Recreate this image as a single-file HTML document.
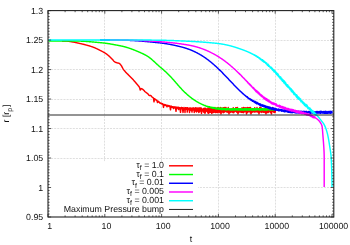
<!DOCTYPE html><html><head><meta charset="utf-8"><title>plot</title><style>html,body{margin:0;padding:0;background:#fff}svg{display:block;will-change:transform}text{text-rendering:geometricPrecision;font-family:"Liberation Sans",sans-serif;fill:#111}</style></head><body>
<svg width="350" height="245" viewBox="0 0 350 245">
<rect width="350" height="245" fill="#fff"/>
<path d="M104.5,217.0 V10.6 M161.5,217.0 V10.6 M218.5,217.0 V10.6 M275.5,217.0 V10.6 M48.0,40.5 H333.8 M48.0,69.5 H333.8 M48.0,99.5 H333.8 M48.0,128.5 H333.8 M48.0,158.5 H333.8 M48.0,187.5 H333.8" stroke="#dfdfdf" stroke-width="1" stroke-dasharray="2,1.1" fill="none"/>
<rect x="48.0" y="161.5" width="150.00" height="55.50" fill="#fff"/>
<path d="M62.00,40.90 L62.25,40.90 L62.50,40.90 L62.75,40.90 L63.00,40.91 L63.25,40.91 L63.50,40.92 L63.75,40.92 L64.00,40.93 L64.25,40.94 L64.50,40.94 L64.75,40.95 L65.00,40.96 L65.25,40.97 L65.50,40.98 L65.75,40.99 L66.00,41.00 L66.25,41.01 L66.50,41.03 L66.75,41.05 L67.00,41.07 L67.25,41.10 L67.50,41.13 L67.75,41.16 L68.00,41.20 L68.25,41.23 L68.50,41.27 L68.75,41.31 L69.00,41.35 L69.25,41.39 L69.50,41.42 L69.75,41.46 L70.00,41.50 L70.25,41.54 L70.50,41.58 L70.75,41.62 L71.00,41.66 L71.25,41.70 L71.50,41.74 L71.75,41.78 L72.00,41.83 L72.25,41.87 L72.50,41.92 L72.75,41.96 L73.00,42.01 L73.25,42.06 L73.50,42.11 L73.75,42.15 L74.00,42.20 L74.25,42.25 L74.50,42.30 L74.75,42.35 L75.00,42.40 L75.25,42.45 L75.50,42.50 L75.75,42.55 L76.00,42.60 L76.25,42.66 L76.50,42.71 L76.75,42.76 L77.00,42.82 L77.25,42.87 L77.50,42.93 L77.75,42.99 L78.00,43.04 L78.25,43.10 L78.50,43.16 L78.75,43.21 L79.00,43.27 L79.25,43.33 L79.50,43.39 L79.75,43.44 L80.00,43.50 L80.25,43.56 L80.50,43.61 L80.75,43.67 L81.00,43.73 L81.25,43.79 L81.50,43.85 L81.75,43.90 L82.00,43.96 L82.25,44.02 L82.50,44.08 L82.75,44.14 L83.00,44.20 L83.25,44.26 L83.50,44.32 L83.75,44.38 L84.00,44.45 L84.25,44.51 L84.50,44.57 L84.75,44.64 L85.00,44.70 L85.25,44.76 L85.50,44.83 L85.75,44.89 L86.00,44.96 L86.25,45.03 L86.50,45.09 L86.75,45.16 L87.00,45.23 L87.25,45.30 L87.50,45.36 L87.75,45.43 L88.00,45.50 L88.25,45.58 L88.50,45.65 L88.75,45.72 L89.00,45.79 L89.25,45.87 L89.50,45.94 L89.75,46.02 L90.00,46.10 L90.25,46.18 L90.50,46.26 L90.75,46.34 L91.00,46.42 L91.25,46.51 L91.50,46.59 L91.75,46.68 L92.00,46.76 L92.25,46.85 L92.50,46.94 L92.75,47.03 L93.00,47.12 L93.25,47.21 L93.50,47.31 L93.75,47.40 L94.00,47.50 L94.25,47.60 L94.50,47.70 L94.75,47.80 L95.00,47.90 L95.25,48.00 L95.50,48.11 L95.75,48.22 L96.00,48.33 L96.25,48.45 L96.50,48.56 L96.75,48.68 L97.00,48.80 L97.25,48.92 L97.50,49.04 L97.75,49.16 L98.00,49.29 L98.25,49.41 L98.50,49.54 L98.75,49.66 L99.00,49.79 L99.25,49.92 L99.50,50.05 L99.75,50.17 L100.00,50.30 L100.25,50.43 L100.50,50.55 L100.75,50.68 L101.00,50.81 L101.25,50.93 L101.50,51.06 L101.75,51.19 L102.00,51.31 L102.25,51.44 L102.50,51.57 L102.75,51.71 L103.00,51.84 L103.25,51.98 L103.50,52.11 L103.75,52.25 L104.00,52.40 L104.25,52.54 L104.50,52.69 L104.75,52.84 L105.00,53.00 L105.25,53.16 L105.50,53.32 L105.75,53.49 L106.00,53.67 L106.25,53.85 L106.50,54.03 L106.75,54.21 L107.00,54.40 L107.25,54.60 L107.50,54.80 L107.75,55.00 L108.00,55.20 L108.25,55.41 L108.50,55.62 L108.75,55.85 L109.00,56.07 L109.25,56.31 L109.50,56.54 L109.75,56.78 L110.00,57.02 L110.25,57.27 L110.50,57.52 L110.75,57.76 L111.00,58.01 L111.25,58.26 L111.50,58.51 L111.75,58.76 L112.00,59.00 L112.25,59.25 L112.50,59.52 L112.75,59.80 L113.00,60.09 L113.25,60.37 L113.50,60.66 L113.75,60.93 L114.00,61.19 L114.25,61.43 L114.50,61.65 L114.75,61.84 L115.00,62.00 L115.25,62.13 L115.50,62.25 L115.75,62.36 L116.00,62.46 L116.25,62.55 L116.50,62.64 L116.75,62.72 L117.00,62.80 L117.25,62.87 L117.50,62.93 L117.75,62.98 L118.00,63.03 L118.25,63.08 L118.50,63.14 L118.75,63.21 L119.00,63.30 L119.25,63.42 L119.50,63.59 L119.75,63.80 L120.00,64.05 L120.25,64.31 L120.50,64.60 L120.75,64.90 L121.00,65.20 L121.25,65.54 L121.50,65.93 L121.75,66.36 L122.00,66.82 L122.25,67.30 L122.50,67.79 L122.75,68.26 L123.00,68.71 L123.25,69.13 L123.50,69.50 L123.75,69.83 L124.00,70.16 L124.25,70.47 L124.50,70.77 L124.75,71.06 L125.00,71.34 L125.25,71.62 L125.50,71.89 L125.75,72.15 L126.00,72.41 L126.25,72.66 L126.50,72.91 L126.75,73.16 L127.00,73.41 L127.25,73.65 L127.50,73.90 L127.75,74.14 L128.00,74.39 L128.25,74.63 L128.50,74.89 L128.75,75.14 L129.00,75.40 L129.25,75.66 L129.50,75.92 L129.75,76.17 L130.00,76.43 L130.25,76.68 L130.50,76.93 L130.75,77.19 L131.00,77.44 L131.25,77.69 L131.50,77.95 L131.75,78.21 L132.00,78.47 L132.25,78.73 L132.50,79.00 L132.75,79.27 L133.00,79.55 L133.25,79.83 L133.50,80.11 L133.75,80.39 L134.00,80.67 L134.25,80.96 L134.50,81.25 L134.75,81.54 L135.00,81.83 L135.25,82.12 L135.50,82.41 L135.75,82.71 L136.00,83.00 L136.25,83.29 L136.50,83.58 L136.75,83.87 L137.00,84.16 L137.25,84.45 L137.50,84.75 L137.75,85.05 L138.00,85.36 L138.25,85.67 L138.50,86.00 L138.75,86.32 L139.00,86.63 L139.25,86.98 L139.50,87.40 L139.75,88.08 L140.00,89.21 L140.25,89.97 L140.50,89.82 L140.75,89.30 L141.00,88.78 L141.25,88.60 L141.50,88.65 L141.75,88.75 L142.00,88.89 L142.25,89.04 L142.50,89.20 L142.75,89.37 L143.00,89.57 L143.25,89.80 L143.50,90.05 L143.75,90.31 L144.00,90.58 L144.25,90.85 L144.50,91.12 L144.75,91.37 L145.00,91.60 L145.25,91.81 L145.50,92.02 L145.75,92.21 L146.00,92.40 L146.25,92.59 L146.50,92.78 L146.75,92.97 L147.00,93.16 L147.25,93.36 L147.50,93.56 L147.75,93.77 L148.00,94.00 L148.25,94.28 L148.50,94.62 L148.75,94.97 L149.00,95.29 L149.25,95.51 L149.50,95.60 L149.75,95.57 L150.00,95.50 L150.25,95.43 L150.50,95.40 L150.75,95.48 L151.00,95.70 L151.25,95.99 L151.50,96.32 L151.75,96.64 L152.00,96.90 L152.25,97.10 L152.50,97.30 L152.75,97.48 L153.00,97.62 L153.25,97.99 L153.50,97.95 L153.75,100.08 L154.00,101.80 L154.25,100.26 L154.50,98.69 L154.75,99.08 L155.00,98.94 L155.25,99.41 L155.50,99.32 L155.75,99.83 L156.00,99.66 L156.25,100.21 L156.50,100.01 L156.75,100.63 L157.00,100.53 L157.25,101.80 L157.50,102.60 L157.75,101.96 L158.00,101.28 L158.25,101.78 L158.50,101.56 L158.75,102.09 L159.00,102.02 L159.25,102.49 L159.50,102.27 L159.75,102.97 L160.00,102.76 L160.25,103.16 L160.50,103.00 L160.75,103.37 L161.00,103.11 L161.25,103.74 L161.50,103.44 L161.75,103.84 L162.00,103.58 L162.25,104.07 L162.50,103.74 L162.75,104.38 L163.00,104.01 L163.25,105.99 L163.50,107.40 L163.75,106.04 L164.00,104.51 L164.25,105.05 L164.50,104.59 L164.75,105.13 L165.00,104.81 L165.25,105.34 L165.50,104.85 L165.75,105.58 L166.00,105.09 L166.25,105.61 L166.50,105.32 L166.75,106.37 L167.00,106.80 L167.25,106.37 L167.50,105.35 L167.75,106.00 L168.00,105.60 L168.25,106.10 L168.50,105.60 L168.75,106.38 L169.00,105.77 L169.25,106.47 L169.50,105.99 L169.75,106.65 L170.00,106.01 L170.25,108.29 L170.50,109.80 L170.75,108.27 L171.00,106.25 L171.25,107.00 L171.50,106.27 L171.75,107.19 L172.00,106.62 L172.25,107.28 L172.50,106.68 L172.75,107.27 L173.00,106.82 L173.25,108.08 L173.50,108.60 L173.75,108.01 L174.00,106.85 L174.25,107.54 L174.50,107.01 L174.75,107.76 L175.00,107.07 L175.25,107.94 L175.50,106.87 L175.75,109.56 L176.00,111.30 L176.25,109.55 L176.50,107.10 L176.75,107.92 L177.00,107.48 L177.25,107.95 L177.50,107.54 L177.75,108.37 L178.00,107.24 L178.25,109.01 L178.50,109.60 L178.75,109.07 L179.00,107.35 L179.25,108.67 L179.50,107.79 L179.75,108.58 L180.00,107.71 L180.25,110.45 L180.50,112.30 L180.75,110.39 L181.00,107.64 L181.25,108.69 L181.50,107.51 L181.75,108.89 L182.00,107.60 L182.25,108.94 L182.50,107.69 L182.75,110.62 L183.00,112.40 L183.25,110.73 L183.50,108.05 L183.75,109.32 L184.00,107.56 L184.25,109.36 L184.50,108.14 L184.75,109.05 L185.00,112.50 L185.25,108.89 L185.50,107.75 L185.75,108.98 L186.00,107.78 L186.25,109.34 L186.50,108.12 L186.75,109.20 L187.00,107.80 L187.25,112.10 L187.50,107.64 L187.75,109.77 L188.00,108.44 L188.25,109.31 L188.50,108.12 L188.75,109.48 L189.00,108.43 L189.25,109.98 L189.50,112.50 L189.75,109.95 L190.00,107.76 L190.25,109.94 L190.50,108.21 L190.75,109.85 L191.00,108.31 L191.25,110.62 L191.50,108.29 L191.75,109.74 L192.00,112.10 L192.25,109.73 L192.50,108.19 L192.75,109.98 L193.00,107.77 L193.25,109.94 L193.50,108.13 L193.75,110.02 L194.00,108.00 L194.25,112.50 L194.50,108.67 L194.75,110.34 L195.00,108.40 L195.25,110.06 L195.50,107.72 L195.75,111.27 L196.00,108.34 L196.25,110.19 L196.50,112.10 L196.75,111.14 L197.00,107.75 L197.25,111.02 L197.50,108.29 L197.75,111.06 L198.00,108.51 L198.25,111.41 L198.50,108.91 L198.75,112.50 L199.00,107.76 L199.25,111.44 L199.50,109.05 L199.75,111.81 L200.00,108.04 L200.25,110.66 L200.50,108.16 L200.75,110.83 L201.00,107.69 L201.25,110.79 L201.50,113.40 L201.75,111.98 L202.00,108.85 L202.25,110.70 L202.50,109.23 L202.75,111.13 L203.00,109.18 L203.25,110.78 L203.50,108.59 L203.75,112.23 L204.00,109.11 L204.25,111.85 L204.50,108.22 L204.75,111.72 L205.00,113.40 L205.25,112.59 L205.50,108.17 L205.75,111.64 L206.00,109.03 L206.25,111.03 L206.50,109.15 L206.75,111.07 L207.00,108.85 L207.25,111.43 L207.50,108.77 L207.75,112.56 L208.00,107.87 L208.25,113.40 L208.50,108.12 L208.75,111.34 L209.00,108.58 L209.25,112.69 L209.50,108.76 L209.75,111.94 L210.00,107.93 L210.25,112.26 L210.50,108.34 L210.75,112.11 L211.00,109.03 L211.25,112.42 L211.50,108.59 L211.75,113.40 L212.00,109.45 L212.25,112.51 L212.50,107.98 L212.75,112.38 L213.00,108.23 L213.25,112.43 L213.50,108.00 L213.75,112.36 L214.00,108.26 L214.25,111.90 L214.50,107.63 L214.75,112.10 L215.00,107.46 L215.25,112.55 L215.50,108.37 L215.75,112.43 L216.00,108.75 L216.25,111.27 L216.50,109.17 L216.75,112.38 L217.00,108.07 L217.25,112.60 L217.50,108.75 L217.75,112.12 L218.00,107.43 L218.25,112.58 L218.50,108.50 L218.75,111.61 L219.00,107.67 L219.25,111.89 L219.50,109.59 L219.75,112.54 L220.00,108.48 L220.25,111.82 L220.50,109.09 L220.75,107.40 L221.00,113.90 L221.25,111.80 L221.50,109.44 L221.75,111.63 L222.00,108.48 L222.25,111.79 L222.50,108.77 L222.75,112.17 L223.00,107.67 L223.25,112.71 L223.50,109.66 L223.75,107.67 L224.00,109.52 L224.25,112.29 L224.50,109.04 L224.75,107.45 L225.00,109.34 L225.25,111.47 L225.50,109.62 L225.75,107.63 L226.00,107.49 L226.25,111.69 L226.50,108.70 L226.75,111.94 L227.00,108.70 L227.25,111.94 L227.50,109.36 L227.75,112.23 L228.00,109.10 L228.25,107.48 L228.50,109.31 L228.75,112.15 L229.00,113.90 L229.25,112.33 L229.50,109.88 L229.75,111.36 L230.00,109.23 L230.25,111.50 L230.50,109.93 L230.75,112.43 L231.00,109.09 L231.25,111.75 L231.50,109.13 L231.75,111.39 L232.00,109.22 L232.25,111.71 L232.50,109.70 L232.75,112.44 L233.00,109.92 L233.25,107.70 L233.50,108.86 L233.75,112.67 L234.00,109.34 L234.25,111.85 L234.50,109.08 L234.75,111.55 L235.00,109.08 L235.25,111.54 L235.50,108.75 L235.75,107.67 L236.00,108.93 L236.25,107.63 L236.50,109.20 L236.75,112.19 L237.00,109.91 L237.25,111.92 L237.50,107.53 L237.75,112.19 L238.00,113.90 L238.25,112.04 L238.50,109.76 L238.75,111.45 L239.00,109.57 L239.25,112.13 L239.50,109.07 L239.75,111.46 L240.00,109.78 L240.25,111.62 L240.50,109.01 L240.75,112.13 L241.00,109.95 L241.25,112.40 L241.50,109.85 L241.75,111.99 L242.00,107.70 L242.25,112.22 L242.50,108.81 L242.75,111.80 L243.00,109.73 L243.25,112.71 L243.50,107.57 L243.75,111.66 L244.00,108.98 L244.25,107.69 L244.50,109.84 L244.75,111.95 L245.00,108.87 L245.25,111.47 L245.50,109.76 L245.75,107.62 L246.00,109.17 L246.25,111.93 L246.50,113.90 L246.75,112.59 L247.00,108.87 L247.25,107.41 L247.50,108.94 L247.75,112.41 L248.00,109.60 L248.25,107.64 L248.50,109.54 L248.75,111.59 L249.00,108.84 L249.25,107.65 L249.50,107.66 L249.75,107.59 L250.00,108.81 L250.25,112.67 L250.50,107.41 L250.75,112.21 L251.00,113.90 L251.25,112.36 L251.50,109.76 L251.75,112.43 L252.00,109.11 L252.25,112.10 L252.50,108.81 L252.75,112.13 L253.00,109.53 L253.25,111.59 L253.50,108.78 L253.75,111.63 L254.00,109.51 L254.25,111.95 L254.50,108.77 L254.75,107.66 L255.00,109.10 L255.25,111.99 L255.50,109.47 L255.75,111.47 L256.00,109.56 L256.25,111.36 L256.50,109.03 L256.75,111.83 L257.00,107.53 L257.25,112.04 L257.50,109.59 L257.75,111.99 L258.00,109.18 L258.25,111.86 L258.50,108.82 L258.75,112.09 L259.00,113.90 L259.25,112.47 L259.50,109.51 L259.75,107.46 L260.00,108.88 L260.25,107.46 L260.50,108.79 L260.75,111.93 L261.00,107.46 L261.25,112.45 L261.50,109.34 L261.75,112.13 L262.00,108.75 L262.25,111.43 L262.50,109.03 L262.75,111.91 L263.00,109.02 L263.25,111.93 L263.50,109.20 L263.75,112.33 L264.00,109.38 L264.25,111.95 L264.50,109.55 L264.75,111.80 L265.00,109.08 L265.25,112.65 L265.50,109.06 L265.75,112.32 L266.00,113.90 L266.25,107.42 L266.50,109.15 L266.75,112.65 L267.00,109.55 L267.25,112.63 L267.50,109.44 L267.75,107.68 L268.00,109.59 L268.25,112.56 L268.50,107.41 L268.75,111.44 L269.00,108.83 L269.25,111.82 L269.50,109.32 L269.75,107.62 L270.00,109.26 L270.25,107.47 L270.50,109.51 L270.75,112.78 L271.00,109.94 L271.25,111.65 L271.50,113.90 L271.75,112.02 L272.00,109.46 L272.25,111.39 L272.50,107.55 L272.75,107.45 L273.00,109.28 L273.25,111.67 L273.50,109.75 L273.75,112.19 L274.00,108.72 L274.25,111.87 L274.50,109.28 L274.75,112.63 L275.00,109.61 L275.25,112.16 L275.50,109.14" stroke="#ff0000" stroke-width="1.45" fill="none" stroke-linejoin="round" stroke-linecap="butt"/>
<path d="M48.40,40.90 L48.65,40.90 L48.90,40.90 L49.15,40.90 L49.40,40.90 L49.65,40.90 L49.90,40.90 L50.15,40.90 L50.40,40.90 L50.65,40.90 L50.90,40.90 L51.15,40.90 L51.40,40.90 L51.65,40.90 L51.90,40.90 L52.15,40.90 L52.40,40.90 L52.65,40.90 L52.90,40.90 L53.15,40.90 L53.40,40.90 L53.65,40.90 L53.90,40.90 L54.15,40.90 L54.40,40.90 L54.65,40.90 L54.90,40.90 L55.15,40.90 L55.40,40.90 L55.65,40.90 L55.90,40.90 L56.15,40.90 L56.40,40.90 L56.65,40.90 L56.90,40.90 L57.15,40.90 L57.40,40.90 L57.65,40.90 L57.90,40.90 L58.15,40.90 L58.40,40.90 L58.65,40.90 L58.90,40.90 L59.15,40.90 L59.40,40.90 L59.65,40.90 L59.90,40.90 L60.15,40.90 L60.40,40.90 L60.65,40.90 L60.90,40.90 L61.15,40.90 L61.40,40.90 L61.65,40.90 L61.90,40.90 L62.15,40.90 L62.40,40.90 L62.65,40.90 L62.90,40.90 L63.15,40.90 L63.40,40.90 L63.65,40.90 L63.90,40.90 L64.15,40.90 L64.40,40.90 L64.65,40.90 L64.90,40.90 L65.15,40.90 L65.40,40.90 L65.65,40.90 L65.90,40.90 L66.15,40.90 L66.40,40.90 L66.65,40.90 L66.90,40.90 L67.15,40.90 L67.40,40.90 L67.65,40.90 L67.90,40.90 L68.15,40.90 L68.40,40.90 L68.65,40.91 L68.90,40.91 L69.15,40.91 L69.40,40.91 L69.65,40.91 L69.90,40.91 L70.15,40.91 L70.40,40.91 L70.65,40.92 L70.90,40.92 L71.15,40.92 L71.40,40.92 L71.65,40.92 L71.90,40.93 L72.15,40.93 L72.40,40.93 L72.65,40.94 L72.90,40.94 L73.15,40.94 L73.40,40.95 L73.65,40.95 L73.90,40.96 L74.15,40.96 L74.40,40.96 L74.65,40.97 L74.90,40.97 L75.15,40.98 L75.40,40.98 L75.65,40.99 L75.90,41.00 L76.15,41.00 L76.40,41.01 L76.65,41.01 L76.90,41.02 L77.15,41.03 L77.40,41.03 L77.65,41.04 L77.90,41.05 L78.15,41.06 L78.40,41.06 L78.65,41.07 L78.90,41.08 L79.15,41.09 L79.40,41.10 L79.65,41.11 L79.90,41.11 L80.15,41.12 L80.40,41.13 L80.65,41.14 L80.90,41.15 L81.15,41.16 L81.40,41.17 L81.65,41.19 L81.90,41.20 L82.15,41.21 L82.40,41.22 L82.65,41.23 L82.90,41.25 L83.15,41.26 L83.40,41.27 L83.65,41.28 L83.90,41.30 L84.15,41.31 L84.40,41.33 L84.65,41.34 L84.90,41.36 L85.15,41.37 L85.40,41.39 L85.65,41.40 L85.90,41.42 L86.15,41.44 L86.40,41.45 L86.65,41.47 L86.90,41.49 L87.15,41.50 L87.40,41.52 L87.65,41.54 L87.90,41.56 L88.15,41.58 L88.40,41.60 L88.65,41.62 L88.90,41.64 L89.15,41.66 L89.40,41.68 L89.65,41.70 L89.90,41.72 L90.15,41.74 L90.40,41.76 L90.65,41.78 L90.90,41.80 L91.15,41.83 L91.40,41.85 L91.65,41.87 L91.90,41.89 L92.15,41.92 L92.40,41.94 L92.65,41.96 L92.90,41.99 L93.15,42.01 L93.40,42.03 L93.65,42.06 L93.90,42.08 L94.15,42.10 L94.40,42.13 L94.65,42.15 L94.90,42.17 L95.15,42.20 L95.40,42.22 L95.65,42.24 L95.90,42.27 L96.15,42.29 L96.40,42.31 L96.65,42.33 L96.90,42.36 L97.15,42.38 L97.40,42.40 L97.65,42.42 L97.90,42.45 L98.15,42.47 L98.40,42.49 L98.65,42.51 L98.90,42.53 L99.15,42.56 L99.40,42.58 L99.65,42.60 L99.90,42.62 L100.15,42.65 L100.40,42.67 L100.65,42.69 L100.90,42.72 L101.15,42.74 L101.40,42.76 L101.65,42.79 L101.90,42.81 L102.15,42.84 L102.40,42.86 L102.65,42.89 L102.90,42.91 L103.15,42.94 L103.40,42.97 L103.65,42.99 L103.90,43.02 L104.15,43.05 L104.40,43.08 L104.65,43.11 L104.90,43.14 L105.15,43.17 L105.40,43.20 L105.65,43.24 L105.90,43.27 L106.15,43.30 L106.40,43.34 L106.65,43.37 L106.90,43.41 L107.15,43.44 L107.40,43.48 L107.65,43.52 L107.90,43.56 L108.15,43.59 L108.40,43.63 L108.65,43.67 L108.90,43.71 L109.15,43.75 L109.40,43.80 L109.65,43.84 L109.90,43.88 L110.15,43.92 L110.40,43.97 L110.65,44.01 L110.90,44.05 L111.15,44.10 L111.40,44.14 L111.65,44.19 L111.90,44.23 L112.15,44.27 L112.40,44.32 L112.65,44.37 L112.90,44.41 L113.15,44.46 L113.40,44.50 L113.65,44.55 L113.90,44.59 L114.15,44.64 L114.40,44.69 L114.65,44.73 L114.90,44.78 L115.15,44.82 L115.40,44.87 L115.65,44.92 L115.90,44.96 L116.15,45.01 L116.40,45.06 L116.65,45.10 L116.90,45.15 L117.15,45.20 L117.40,45.24 L117.65,45.29 L117.90,45.34 L118.15,45.38 L118.40,45.43 L118.65,45.48 L118.90,45.53 L119.15,45.58 L119.40,45.63 L119.65,45.68 L119.90,45.73 L120.15,45.78 L120.40,45.83 L120.65,45.88 L120.90,45.93 L121.15,45.98 L121.40,46.04 L121.65,46.09 L121.90,46.14 L122.15,46.20 L122.40,46.26 L122.65,46.31 L122.90,46.37 L123.15,46.43 L123.40,46.49 L123.65,46.55 L123.90,46.61 L124.15,46.67 L124.40,46.74 L124.65,46.80 L124.90,46.87 L125.15,46.94 L125.40,47.00 L125.65,47.07 L125.90,47.14 L126.15,47.22 L126.40,47.29 L126.65,47.36 L126.90,47.44 L127.15,47.51 L127.40,47.59 L127.65,47.67 L127.90,47.75 L128.15,47.83 L128.40,47.91 L128.65,47.99 L128.90,48.07 L129.15,48.16 L129.40,48.24 L129.65,48.33 L129.90,48.42 L130.15,48.50 L130.40,48.59 L130.65,48.68 L130.90,48.77 L131.15,48.86 L131.40,48.95 L131.65,49.04 L131.90,49.14 L132.15,49.23 L132.40,49.32 L132.65,49.42 L132.90,49.51 L133.15,49.61 L133.40,49.71 L133.65,49.80 L133.90,49.90 L134.15,50.00 L134.40,50.10 L134.65,50.20 L134.90,50.30 L135.15,50.40 L135.40,50.50 L135.65,50.60 L135.90,50.70 L136.15,50.80 L136.40,50.90 L136.65,51.01 L136.90,51.11 L137.15,51.21 L137.40,51.32 L137.65,51.42 L137.90,51.53 L138.15,51.63 L138.40,51.74 L138.65,51.85 L138.90,51.96 L139.15,52.06 L139.40,52.17 L139.65,52.28 L139.90,52.39 L140.15,52.50 L140.40,52.61 L140.65,52.72 L140.90,52.83 L141.15,52.95 L141.40,53.06 L141.65,53.17 L141.90,53.29 L142.15,53.40 L142.40,53.52 L142.65,53.64 L142.90,53.76 L143.15,53.88 L143.40,54.00 L143.65,54.12 L143.90,54.25 L144.15,54.37 L144.40,54.50 L144.65,54.63 L144.90,54.76 L145.15,54.89 L145.40,55.02 L145.65,55.16 L145.90,55.30 L146.15,55.44 L146.40,55.58 L146.65,55.73 L146.90,55.87 L147.15,56.03 L147.40,56.18 L147.65,56.34 L147.90,56.50 L148.15,56.66 L148.40,56.83 L148.65,57.00 L148.90,57.18 L149.15,57.36 L149.40,57.54 L149.65,57.73 L149.90,57.92 L150.15,58.11 L150.40,58.31 L150.65,58.51 L150.90,58.71 L151.15,58.92 L151.40,59.13 L151.65,59.35 L151.90,59.57 L152.15,59.78 L152.40,60.01 L152.65,60.23 L152.90,60.46 L153.15,60.68 L153.40,60.91 L153.65,61.14 L153.90,61.38 L154.15,61.61 L154.40,61.84 L154.65,62.07 L154.90,62.31 L155.15,62.54 L155.40,62.77 L155.65,63.00 L155.90,63.24 L156.15,63.47 L156.40,63.70 L156.65,63.93 L156.90,64.15 L157.15,64.38 L157.40,64.61 L157.65,64.83 L157.90,65.05 L158.15,65.28 L158.40,65.50 L158.65,65.72 L158.90,65.94 L159.15,66.15 L159.40,66.37 L159.65,66.58 L159.90,66.80 L160.15,67.01 L160.40,67.23 L160.65,67.44 L160.90,67.65 L161.15,67.86 L161.40,68.08 L161.65,68.29 L161.90,68.50 L162.15,68.71 L162.40,68.93 L162.65,69.14 L162.90,69.35 L163.15,69.57 L163.40,69.79 L163.65,70.01 L163.90,70.22 L164.15,70.45 L164.40,70.67 L164.65,70.89 L164.90,71.12 L165.15,71.34 L165.40,71.57 L165.65,71.80 L165.90,72.04 L166.15,72.27 L166.40,72.51 L166.65,72.75 L166.90,72.99 L167.15,73.23 L167.40,73.47 L167.65,73.72 L167.90,73.96 L168.15,74.21 L168.40,74.46 L168.65,74.71 L168.90,74.97 L169.15,75.22 L169.40,75.48 L169.65,75.74 L169.90,76.00 L170.15,76.26 L170.40,76.52 L170.65,76.78 L170.90,77.05 L171.15,77.32 L171.40,77.59 L171.65,77.86 L171.90,78.13 L172.15,78.40 L172.40,78.67 L172.65,78.95 L172.90,79.23 L173.15,79.51 L173.40,79.79 L173.65,80.07 L173.90,80.35 L174.15,80.63 L174.40,80.92 L174.65,81.20 L174.90,81.49 L175.15,81.78 L175.40,82.06 L175.65,82.35 L175.90,82.64 L176.15,82.93 L176.40,83.22 L176.65,83.51 L176.90,83.80 L177.15,84.09 L177.40,84.38 L177.65,84.67 L177.90,84.95 L178.15,85.24 L178.40,85.53 L178.65,85.81 L178.90,86.10 L179.15,86.38 L179.40,86.66 L179.65,86.94 L179.90,87.22 L180.15,87.50 L180.40,87.77 L180.65,88.04 L180.90,88.32 L181.15,88.59 L181.40,88.85 L181.65,89.12 L181.90,89.38 L182.15,89.65 L182.40,89.91 L182.65,90.16 L182.90,90.42 L183.15,90.67 L183.40,90.93 L183.65,91.18 L183.90,91.43 L184.15,91.67 L184.40,91.92 L184.65,92.16 L184.90,92.40 L185.15,92.64 L185.40,92.88 L185.65,93.11 L185.90,93.34 L186.15,93.57 L186.40,93.80 L186.65,94.03 L186.90,94.25 L187.15,94.47 L187.40,94.69 L187.65,94.91 L187.90,95.13 L188.15,95.34 L188.40,95.55 L188.65,95.76 L188.90,95.97 L189.15,96.18 L189.40,96.38 L189.65,96.58 L189.90,96.78 L190.15,96.98 L190.40,97.18 L190.65,97.37 L190.90,97.56 L191.15,97.75 L191.40,97.94 L191.65,98.13 L191.90,98.31 L192.15,98.50 L192.40,98.68 L192.65,98.86 L192.90,99.04 L193.15,99.21 L193.40,99.39 L193.65,99.56 L193.90,99.73 L194.15,99.90 L194.40,100.07 L194.65,100.24 L194.90,100.40 L195.15,100.57 L195.40,100.73 L195.65,100.89 L195.90,101.05 L196.15,101.20 L196.40,101.36 L196.65,101.51 L196.90,101.66 L197.15,101.81 L197.40,101.96 L197.65,102.10 L197.90,102.25 L198.15,102.39 L198.40,102.53 L198.65,102.67 L198.90,102.80 L199.15,102.94 L199.40,103.07 L199.65,103.20 L199.90,103.33 L200.15,103.46 L200.40,103.59 L200.65,103.71 L200.90,103.83 L201.15,103.95 L201.40,104.07 L201.65,104.19 L201.90,104.31 L202.15,104.42 L202.40,104.53 L202.65,104.64 L202.90,104.75 L203.15,104.86 L203.40,104.98 L203.65,105.05 L203.90,105.22 L204.15,105.22 L204.40,105.43 L204.65,105.45 L204.90,105.62 L205.15,105.59 L205.40,105.86 L205.65,105.75 L205.90,105.98 L206.15,105.99 L206.40,106.26 L206.65,106.16 L206.90,106.42 L207.15,106.25 L207.40,106.65 L207.65,106.48 L207.90,106.81 L208.15,106.55 L208.40,106.97 L208.65,106.74 L208.90,107.12 L209.15,106.71 L209.40,107.30 L209.65,106.82 L209.90,107.43 L210.15,106.99 L210.40,107.59 L210.65,107.25 L210.90,107.73 L211.15,107.35 L211.40,107.80 L211.65,107.31 L211.90,107.76 L212.15,107.51 L212.40,108.14 L212.65,107.43 L212.90,108.17 L213.15,107.49 L213.40,108.24 L213.65,107.65 L213.90,108.36 L214.15,107.61 L214.40,108.24 L214.65,107.65 L214.90,108.25 L215.15,107.94 L215.40,108.90 L215.65,108.07 L215.90,108.72 L216.15,108.18 L216.40,109.04 L216.65,108.23 L216.90,108.90 L217.15,108.17 L217.40,108.85 L217.65,108.09 L217.90,109.03 L218.15,107.93 L218.40,109.16 L218.65,108.10 L218.90,108.82 L219.15,108.09 L219.40,109.33 L219.65,108.44 L219.90,109.36 L220.15,108.80 L220.40,109.12 L220.65,108.28 L220.90,109.39 L221.15,108.22 L221.40,109.56 L221.65,108.24 L221.90,109.66 L222.15,108.78 L222.40,109.69 L222.65,108.42 L222.90,109.31 L223.15,108.82 L223.40,109.43 L223.65,108.41 L223.90,109.52 L224.15,108.58 L224.40,109.61 L224.65,108.55 L224.90,109.59 L225.15,108.99 L225.40,109.89 L225.65,108.62 L225.90,109.28 L226.15,108.90 L226.40,109.92 L226.65,108.46 L226.90,109.71 L227.15,108.80 L227.40,109.68 L227.65,108.84 L227.90,109.74 L228.15,108.67 L228.40,109.48 L228.65,108.51 L228.90,109.56 L229.15,109.09 L229.40,109.85 L229.65,108.87 L229.90,109.93 L230.15,109.02 L230.40,109.83 L230.65,109.07 L230.90,109.99 L231.15,108.99 L231.40,110.06 L231.65,109.00 L231.90,109.88 L232.15,108.86 L232.40,110.08 L232.65,108.92 L232.90,109.89 L233.15,108.63 L233.40,109.54 L233.65,108.84 L233.90,110.06 L234.15,109.00 L234.40,109.59 L234.65,108.80 L234.90,110.04 L235.15,108.65 L235.40,109.87 L235.65,109.07 L235.90,109.43 L236.15,108.93 L236.40,109.61 L236.65,108.81 L236.90,110.00 L237.15,108.77 L237.40,109.69 L237.65,108.62 L237.90,110.05 L238.15,108.79 L238.40,110.07 L238.65,108.64 L238.90,109.81 L239.15,108.72 L239.40,109.86 L239.65,108.94 L239.90,110.16 L240.15,109.14 L240.40,109.91 L240.65,108.72 L240.90,109.99 L241.15,108.95 L241.40,110.07 L241.65,109.06 L241.90,109.93 L242.15,108.88 L242.40,109.67 L242.65,109.11 L242.90,110.11 L243.15,109.18 L243.40,110.16 L243.65,108.99 L243.90,110.16 L244.15,108.76 L244.40,109.91 L244.65,108.68 L244.90,109.62 L245.15,108.84 L245.40,110.05 L245.65,108.75 L245.90,109.79 L246.15,109.24 L246.40,110.16 L246.65,108.66 L246.90,109.80 L247.15,108.70 L247.40,109.66 L247.65,109.03 L247.90,110.17 L248.15,109.18 L248.40,109.97 L248.65,108.75 L248.90,110.09 L249.15,108.65 L249.40,109.58 L249.65,108.75 L249.90,110.02 L250.15,108.87 L250.40,109.76 L250.65,108.69 L250.90,109.83 L251.15,108.78 L251.40,109.81 L251.65,108.91 L251.90,110.17 L252.15,109.08 L252.40,110.11 L252.65,109.23 L252.90,110.17 L253.15,108.80 L253.40,109.82 L253.65,108.71 L253.90,110.06 L254.15,108.63 L254.40,110.04 L254.65,108.72 L254.90,109.85 L255.15,108.70 L255.40,110.08 L255.65,108.88 L255.90,109.75 L256.15,108.62 L256.40,109.91 L256.65,108.70 L256.90,109.57 L257.15,109.00 L257.40,109.71 L257.65,108.74 L257.90,109.86 L258.15,108.70 L258.40,109.83 L258.65,108.99 L258.90,109.81 L259.15,109.05 L259.40,109.97 L259.65,108.86 L259.90,110.15 L260.15,108.97 L260.40,109.65 L260.65,108.67 L260.90,110.17 L261.15,108.84 L261.40,109.58 L261.65,108.87 L261.90,109.71 L262.15,108.97 L262.40,109.88 L262.65,109.25 L262.90,109.94 L263.15,108.86 L263.40,109.76 L263.65,109.19 L263.90,109.99 L264.15,108.77 L264.40,110.18 L264.65,108.80 L264.90,109.71 L265.15,109.09 L265.40,109.46 L265.65,109.21 L265.90,110.11 L266.15,109.29 L266.40,109.90 L266.65,109.09 L266.90,110.01 L267.15,108.71 L267.40,109.96 L267.65,108.76 L267.90,109.52 L268.15,109.20 L268.40,109.55 L268.65,109.04 L268.90,109.48 L269.15,108.73 L269.40,110.12 L269.65,108.72 L269.90,109.76 L270.15,108.93 L270.40,110.02 L270.65,109.12 L270.90,109.81 L271.15,108.76 L271.40,109.92 L271.65,108.95 L271.90,109.73 L272.15,108.71 L272.40,109.80 L272.65,108.92 L272.90,109.96 L273.15,109.10 L273.40,110.15 L273.65,109.00 L273.90,110.08 L274.15,108.78 L274.40,109.67 L274.65,109.35 L274.90,109.91" stroke="#00ff00" stroke-width="1.45" fill="none" stroke-linejoin="round" stroke-linecap="butt"/>
<path d="M100.00,39.90 L100.25,39.90 L100.50,39.90 L100.75,39.90 L101.00,39.90 L101.25,39.91 L101.50,39.91 L101.75,39.91 L102.00,39.91 L102.25,39.91 L102.50,39.91 L102.75,39.91 L103.00,39.91 L103.25,39.91 L103.50,39.91 L103.75,39.91 L104.00,39.92 L104.25,39.92 L104.50,39.92 L104.75,39.92 L105.00,39.92 L105.25,39.92 L105.50,39.92 L105.75,39.93 L106.00,39.93 L106.25,39.93 L106.50,39.93 L106.75,39.93 L107.00,39.94 L107.25,39.94 L107.50,39.94 L107.75,39.94 L108.00,39.94 L108.25,39.95 L108.50,39.95 L108.75,39.95 L109.00,39.95 L109.25,39.96 L109.50,39.96 L109.75,39.96 L110.00,39.96 L110.25,39.97 L110.50,39.97 L110.75,39.97 L111.00,39.98 L111.25,39.98 L111.50,39.98 L111.75,39.98 L112.00,39.99 L112.25,39.99 L112.50,39.99 L112.75,40.00 L113.00,40.00 L113.25,40.00 L113.50,40.01 L113.75,40.01 L114.00,40.01 L114.25,40.02 L114.50,40.02 L114.75,40.02 L115.00,40.03 L115.25,40.03 L115.50,40.03 L115.75,40.04 L116.00,40.04 L116.25,40.04 L116.50,40.05 L116.75,40.05 L117.00,40.06 L117.25,40.06 L117.50,40.06 L117.75,40.07 L118.00,40.07 L118.25,40.08 L118.50,40.08 L118.75,40.08 L119.00,40.09 L119.25,40.09 L119.50,40.10 L119.75,40.10 L120.00,40.11 L120.25,40.11 L120.50,40.12 L120.75,40.12 L121.00,40.13 L121.25,40.13 L121.50,40.14 L121.75,40.14 L122.00,40.15 L122.25,40.16 L122.50,40.16 L122.75,40.17 L123.00,40.17 L123.25,40.18 L123.50,40.19 L123.75,40.19 L124.00,40.20 L124.25,40.21 L124.50,40.22 L124.75,40.22 L125.00,40.23 L125.25,40.24 L125.50,40.25 L125.75,40.25 L126.00,40.26 L126.25,40.27 L126.50,40.28 L126.75,40.29 L127.00,40.30 L127.25,40.31 L127.50,40.31 L127.75,40.32 L128.00,40.33 L128.25,40.34 L128.50,40.35 L128.75,40.36 L129.00,40.37 L129.25,40.38 L129.50,40.39 L129.75,40.40 L130.00,40.41 L130.25,40.43 L130.50,40.44 L130.75,40.45 L131.00,40.46 L131.25,40.47 L131.50,40.48 L131.75,40.50 L132.00,40.51 L132.25,40.52 L132.50,40.53 L132.75,40.55 L133.00,40.56 L133.25,40.57 L133.50,40.59 L133.75,40.60 L134.00,40.62 L134.25,40.63 L134.50,40.64 L134.75,40.66 L135.00,40.67 L135.25,40.69 L135.50,40.70 L135.75,40.72 L136.00,40.74 L136.25,40.75 L136.50,40.77 L136.75,40.78 L137.00,40.80 L137.25,40.82 L137.50,40.84 L137.75,40.85 L138.00,40.87 L138.25,40.89 L138.50,40.90 L138.75,40.92 L139.00,40.94 L139.25,40.96 L139.50,40.98 L139.75,41.00 L140.00,41.01 L140.25,41.03 L140.50,41.05 L140.75,41.07 L141.00,41.09 L141.25,41.11 L141.50,41.13 L141.75,41.15 L142.00,41.17 L142.25,41.19 L142.50,41.21 L142.75,41.23 L143.00,41.25 L143.25,41.28 L143.50,41.30 L143.75,41.32 L144.00,41.34 L144.25,41.36 L144.50,41.38 L144.75,41.41 L145.00,41.43 L145.25,41.45 L145.50,41.47 L145.75,41.50 L146.00,41.52 L146.25,41.54 L146.50,41.57 L146.75,41.59 L147.00,41.61 L147.25,41.64 L147.50,41.66 L147.75,41.68 L148.00,41.71 L148.25,41.73 L148.50,41.76 L148.75,41.78 L149.00,41.80 L149.25,41.83 L149.50,41.85 L149.75,41.87 L150.00,41.90 L150.25,41.92 L150.50,41.95 L150.75,41.97 L151.00,41.99 L151.25,42.02 L151.50,42.04 L151.75,42.07 L152.00,42.09 L152.25,42.11 L152.50,42.14 L152.75,42.16 L153.00,42.19 L153.25,42.21 L153.50,42.24 L153.75,42.26 L154.00,42.28 L154.25,42.31 L154.50,42.33 L154.75,42.36 L155.00,42.38 L155.25,42.41 L155.50,42.43 L155.75,42.46 L156.00,42.48 L156.25,42.51 L156.50,42.53 L156.75,42.56 L157.00,42.58 L157.25,42.61 L157.50,42.63 L157.75,42.66 L158.00,42.69 L158.25,42.71 L158.50,42.74 L158.75,42.77 L159.00,42.79 L159.25,42.82 L159.50,42.85 L159.75,42.88 L160.00,42.90 L160.25,42.93 L160.50,42.96 L160.75,42.99 L161.00,43.02 L161.25,43.05 L161.50,43.08 L161.75,43.11 L162.00,43.14 L162.25,43.17 L162.50,43.20 L162.75,43.23 L163.00,43.27 L163.25,43.30 L163.50,43.33 L163.75,43.37 L164.00,43.40 L164.25,43.44 L164.50,43.47 L164.75,43.51 L165.00,43.54 L165.25,43.58 L165.50,43.62 L165.75,43.66 L166.00,43.69 L166.25,43.73 L166.50,43.77 L166.75,43.81 L167.00,43.85 L167.25,43.90 L167.50,43.94 L167.75,43.98 L168.00,44.02 L168.25,44.07 L168.50,44.11 L168.75,44.16 L169.00,44.20 L169.25,44.25 L169.50,44.29 L169.75,44.34 L170.00,44.39 L170.25,44.44 L170.50,44.48 L170.75,44.53 L171.00,44.58 L171.25,44.63 L171.50,44.68 L171.75,44.73 L172.00,44.78 L172.25,44.83 L172.50,44.89 L172.75,44.94 L173.00,44.99 L173.25,45.04 L173.50,45.10 L173.75,45.15 L174.00,45.20 L174.25,45.26 L174.50,45.31 L174.75,45.36 L175.00,45.42 L175.25,45.47 L175.50,45.53 L175.75,45.59 L176.00,45.64 L176.25,45.70 L176.50,45.75 L176.75,45.81 L177.00,45.87 L177.25,45.93 L177.50,45.98 L177.75,46.04 L178.00,46.10 L178.25,46.16 L178.50,46.22 L178.75,46.28 L179.00,46.34 L179.25,46.40 L179.50,46.46 L179.75,46.53 L180.00,46.59 L180.25,46.65 L180.50,46.71 L180.75,46.78 L181.00,46.84 L181.25,46.91 L181.50,46.97 L181.75,47.04 L182.00,47.11 L182.25,47.17 L182.50,47.24 L182.75,47.31 L183.00,47.38 L183.25,47.45 L183.50,47.52 L183.75,47.59 L184.00,47.67 L184.25,47.74 L184.50,47.81 L184.75,47.89 L185.00,47.96 L185.25,48.04 L185.50,48.12 L185.75,48.20 L186.00,48.27 L186.25,48.35 L186.50,48.44 L186.75,48.52 L187.00,48.60 L187.25,48.69 L187.50,48.77 L187.75,48.86 L188.00,48.95 L188.25,49.03 L188.50,49.12 L188.75,49.21 L189.00,49.31 L189.25,49.40 L189.50,49.49 L189.75,49.59 L190.00,49.69 L190.25,49.78 L190.50,49.88 L190.75,49.98 L191.00,50.08 L191.25,50.19 L191.50,50.29 L191.75,50.39 L192.00,50.50 L192.25,50.61 L192.50,50.72 L192.75,50.83 L193.00,50.94 L193.25,51.05 L193.50,51.16 L193.75,51.27 L194.00,51.39 L194.25,51.51 L194.50,51.62 L194.75,51.74 L195.00,51.86 L195.25,51.98 L195.50,52.10 L195.75,52.23 L196.00,52.35 L196.25,52.48 L196.50,52.60 L196.75,52.73 L197.00,52.86 L197.25,52.99 L197.50,53.12 L197.75,53.25 L198.00,53.39 L198.25,53.52 L198.50,53.66 L198.75,53.79 L199.00,53.93 L199.25,54.07 L199.50,54.21 L199.75,54.36 L200.00,54.50 L200.25,54.65 L200.50,54.79 L200.75,54.94 L201.00,55.09 L201.25,55.24 L201.50,55.39 L201.75,55.55 L202.00,55.70 L202.25,55.86 L202.50,56.02 L202.75,56.18 L203.00,56.34 L203.25,56.50 L203.50,56.67 L203.75,56.83 L204.00,57.00 L204.25,57.17 L204.50,57.34 L204.75,57.51 L205.00,57.68 L205.25,57.85 L205.50,58.03 L205.75,58.20 L206.00,58.38 L206.25,58.56 L206.50,58.74 L206.75,58.92 L207.00,59.10 L207.25,59.29 L207.50,59.47 L207.75,59.66 L208.00,59.85 L208.25,60.04 L208.50,60.23 L208.75,60.42 L209.00,60.61 L209.25,60.81 L209.50,61.00 L209.75,61.20 L210.00,61.40 L210.25,61.60 L210.50,61.80 L210.75,62.00 L211.00,62.21 L211.25,62.41 L211.50,62.62 L211.75,62.83 L212.00,63.04 L212.25,63.25 L212.50,63.46 L212.75,63.67 L213.00,63.89 L213.25,64.10 L213.50,64.32 L213.75,64.54 L214.00,64.76 L214.25,64.98 L214.50,65.20 L214.75,65.43 L215.00,65.65 L215.25,65.88 L215.50,66.11 L215.75,66.33 L216.00,66.56 L216.25,66.79 L216.50,67.03 L216.75,67.26 L217.00,67.49 L217.25,67.73 L217.50,67.96 L217.75,68.20 L218.00,68.44 L218.25,68.67 L218.50,68.91 L218.75,69.15 L219.00,69.40 L219.25,69.64 L219.50,69.88 L219.75,70.12 L220.00,70.37 L220.25,70.61 L220.50,70.86 L220.75,71.11 L221.00,71.36 L221.25,71.61 L221.50,71.86 L221.75,72.11 L222.00,72.36 L222.25,72.61 L222.50,72.87 L222.75,73.12 L223.00,73.38 L223.25,73.63 L223.50,73.89 L223.75,74.15 L224.00,74.41 L224.25,74.66 L224.50,74.92 L224.75,75.18 L225.00,75.44 L225.25,75.71 L225.50,75.97 L225.75,76.23 L226.00,76.49 L226.25,76.75 L226.50,77.01 L226.75,77.28 L227.00,77.54 L227.25,77.80 L227.50,78.07 L227.75,78.33 L228.00,78.59 L228.25,78.86 L228.50,79.12 L228.75,79.38 L229.00,79.65 L229.25,79.91 L229.50,80.17 L229.75,80.44 L230.00,80.70 L230.25,80.97 L230.50,81.23 L230.75,81.49 L231.00,81.76 L231.25,82.02 L231.50,82.28 L231.75,82.55 L232.00,82.81 L232.25,83.07 L232.50,83.33 L232.75,83.60 L233.00,83.86 L233.25,84.12 L233.50,84.38 L233.75,84.64 L234.00,84.91 L234.25,85.17 L234.50,85.43 L234.75,85.68 L235.00,85.94 L235.25,86.20 L235.50,86.46 L235.75,86.71 L236.00,86.97 L236.25,87.22 L236.50,87.48 L236.75,87.73 L237.00,87.98 L237.25,88.23 L237.50,88.48 L237.75,88.73 L238.00,88.98 L238.25,89.22 L238.50,89.47 L238.75,89.71 L239.00,89.95 L239.25,90.19 L239.50,90.43 L239.75,90.67 L240.00,90.91 L240.25,91.14 L240.50,91.40 L240.75,91.57 L241.00,91.87 L241.25,92.03 L241.50,92.31 L241.75,92.45 L242.00,92.83 L242.25,92.93 L242.50,93.31 L242.75,93.33 L243.00,93.79 L243.25,93.72 L243.50,94.13 L243.75,94.22 L244.00,94.70 L244.25,94.70 L244.50,95.01 L244.75,94.93 L245.00,95.58 L245.25,95.45 L245.50,95.92 L245.75,95.94 L246.00,96.27 L246.25,96.36 L246.50,96.82 L246.75,96.53 L247.00,97.08 L247.25,96.84 L247.50,97.60 L247.75,97.26 L248.00,98.04 L248.25,97.76 L248.50,98.47 L248.75,98.02 L249.00,98.75 L249.25,98.50 L249.50,99.02 L249.75,98.68 L250.00,99.57 L250.25,99.00 L250.50,99.86 L250.75,99.20 L251.00,100.14 L251.25,99.93 L251.50,100.55 L251.75,99.73 L252.00,100.54 L252.25,100.22 L252.50,101.24 L252.75,100.50 L253.00,101.23 L253.25,100.76 L253.50,101.50 L253.75,101.36 L254.00,102.01 L254.25,101.53 L254.50,102.40 L254.75,101.35 L255.00,102.49 L255.25,101.57 L255.50,102.88 L255.75,101.89 L256.00,103.27 L256.25,102.15 L256.50,103.74 L256.75,102.35 L257.00,103.50 L257.25,102.55 L257.50,103.72 L257.75,102.85 L258.00,103.85 L258.25,103.39 L258.50,104.21 L258.75,103.38 L259.00,104.62 L259.25,103.63 L259.50,104.75 L259.75,103.97 L260.00,105.45 L260.25,104.04 L260.50,105.40 L260.75,104.16 L261.00,105.91 L261.25,104.64 L261.50,105.45 L261.75,104.92 L262.00,105.70 L262.25,104.97 L262.50,106.35 L262.75,104.90 L263.00,106.01 L263.25,105.56 L263.50,106.45 L263.75,105.22 L264.00,106.72 L264.25,105.58 L264.50,106.74 L264.75,105.74 L265.00,107.14 L265.25,106.07 L265.50,107.31 L265.75,105.93 L266.00,107.28 L266.25,106.29 L266.50,107.22 L266.75,106.61 L267.00,107.23 L267.25,107.01 L267.50,107.46 L267.75,106.46 L268.00,108.16 L268.25,106.80 L268.50,108.35 L268.75,107.28 L269.00,108.18 L269.25,107.08 L269.50,108.66 L269.75,107.25 L270.00,108.22 L270.25,107.88 L270.50,108.21 L270.75,107.37 L271.00,109.09 L271.25,107.99 L271.50,109.17 L271.75,108.27 L272.00,109.31 L272.25,107.78 L272.50,109.19 L272.75,108.06 L273.00,109.09 L273.25,107.88 L273.50,109.26 L273.75,108.47 L274.00,109.75 L274.25,108.33 L274.50,109.70 L274.75,108.45 L275.00,109.43 L275.25,108.98 L275.50,110.21 L275.75,108.58 L276.00,110.09 L276.25,108.78 L276.50,109.89 L276.75,109.24 L277.00,110.28 L277.25,109.59 L277.50,109.81 L277.75,109.25 L278.00,110.48 L278.25,108.94 L278.50,110.48 L278.75,109.47 L279.00,110.91 L279.25,109.57 L279.50,110.69 L279.75,109.51 L280.00,110.31 L280.25,109.97 L280.50,110.31 L280.75,109.47 L281.00,110.88 L281.25,109.63 L281.50,111.02 L281.75,109.84 L282.00,111.39 L282.25,110.00 L282.50,110.84 L282.75,109.88 L283.00,110.79 L283.25,110.07 L283.50,111.28 L283.75,110.21 L284.00,111.62 L284.25,110.00 L284.50,111.84 L284.75,110.10 L285.00,111.83 L285.25,110.08 L285.50,111.58 L285.75,110.56 L286.00,111.22 L286.25,110.54 L286.50,111.34 L286.75,110.82 L287.00,111.80 L287.25,110.70 L287.50,112.12 L287.75,110.71 L288.00,112.14 L288.25,111.28 L288.50,112.21 L288.75,110.61 L289.00,111.53 L289.25,110.97 L289.50,112.26 L289.75,111.24 L290.00,112.42 L290.25,110.63 L290.50,112.45 L290.75,110.90 L291.00,112.50 L291.25,110.73 L291.50,112.65 L291.75,111.21 L292.00,112.50 L292.25,111.52 L292.50,112.71 L292.75,111.62 L293.00,112.28 L293.25,111.13 L293.50,112.25 L293.75,111.29 L294.00,112.41 L294.25,111.13 L294.50,112.59 L294.75,111.05 L295.00,112.70 L295.25,111.16 L295.50,112.07 L295.75,111.21 L296.00,112.95 L296.25,111.73 L296.50,112.89 L296.75,111.19 L297.00,112.29 L297.25,111.33 L297.50,112.58 L297.75,111.55 L298.00,113.10 L298.25,111.40 L298.50,112.76 L298.75,111.26 L299.00,112.71 L299.25,111.86 L299.50,113.15 L299.75,111.83 L300.00,113.11 L300.25,111.19 L300.50,112.82 L300.75,111.91 L301.00,112.83 L301.25,111.51 L301.50,113.08 L301.75,111.22 L302.00,112.65 L302.25,112.09 L302.50,113.22 L302.75,112.21 L303.00,113.21 L303.25,111.31 L303.50,113.18 L303.75,111.67 L304.00,112.63 L304.25,111.52 L304.50,112.86 L304.75,111.45 L305.00,112.63 L305.25,111.63 L305.50,113.22 L305.75,111.54 L306.00,113.23 L306.25,111.43 L306.50,112.58 L306.75,111.51 L307.00,112.64 L307.25,112.08 L307.50,113.02 L307.75,112.23 L308.00,112.46 L308.25,111.72 L308.50,112.65 L308.75,111.51 L309.00,112.76 L309.25,111.87 L309.50,112.99 L309.75,111.61 L310.00,113.20 L310.25,111.41 L310.50,113.26 L310.75,112.03 L311.00,112.48 L311.25,111.45 L311.50,112.88 L311.75,112.13 L312.00,112.98 L312.25,111.79 L312.50,112.70 L312.75,111.52 L313.00,113.13 L313.25,111.85 L313.50,113.08 L313.75,111.89 L314.00,113.23 L314.25,111.72 L314.50,112.94 L314.75,111.96 L315.00,112.93 L315.25,111.84 L315.50,113.16 L315.75,112.00 L316.00,112.99 L316.25,111.72 L316.50,113.25 L316.75,111.52 L317.00,113.01 L317.25,111.98 L317.50,112.56 L317.75,111.56 L318.00,113.25 L318.25,112.08 L318.50,112.90 L318.75,111.75 L319.00,112.40 L319.25,111.55 L319.50,112.93 L319.75,111.65 L320.00,113.19 L320.25,111.55 L320.50,112.72 L320.75,111.32 L321.00,113.25 L321.25,111.50 L321.50,112.58 L321.75,111.54 L322.00,112.32 L322.25,111.83 L322.50,112.91 L322.75,111.67 L323.00,113.17 L323.25,111.59 L323.50,113.07 L323.75,111.68 L324.00,113.13 L324.25,111.93 L324.50,113.24 L324.75,111.40 L325.00,113.25 L325.25,111.33 L325.50,113.16 L325.75,111.82 L326.00,113.25 L326.25,111.42 L326.50,112.94 L326.75,112.05 L327.00,113.28 L327.25,111.90 L327.50,112.65 L327.75,111.60 L328.00,113.21 L328.25,111.84 L328.50,112.69 L328.75,111.44 L329.00,113.01 L329.25,111.59 L329.50,113.03 L329.75,111.42 L330.00,113.16 L330.25,111.85 L330.50,112.84 L330.75,111.30 L331.00,113.20 L331.25,111.61 L331.50,112.80 L331.75,111.36 L332.00,112.77 L332.25,111.67" stroke="#0000ff" stroke-width="1.45" fill="none" stroke-linejoin="round" stroke-linecap="butt"/>
<path d="M110.00,39.90 L110.25,39.90 L110.50,39.90 L110.75,39.90 L111.00,39.90 L111.25,39.91 L111.50,39.91 L111.75,39.91 L112.00,39.91 L112.25,39.91 L112.50,39.91 L112.75,39.91 L113.00,39.91 L113.25,39.91 L113.50,39.91 L113.75,39.91 L114.00,39.92 L114.25,39.92 L114.50,39.92 L114.75,39.92 L115.00,39.92 L115.25,39.92 L115.50,39.92 L115.75,39.93 L116.00,39.93 L116.25,39.93 L116.50,39.93 L116.75,39.93 L117.00,39.93 L117.25,39.94 L117.50,39.94 L117.75,39.94 L118.00,39.94 L118.25,39.95 L118.50,39.95 L118.75,39.95 L119.00,39.95 L119.25,39.95 L119.50,39.96 L119.75,39.96 L120.00,39.96 L120.25,39.97 L120.50,39.97 L120.75,39.97 L121.00,39.97 L121.25,39.98 L121.50,39.98 L121.75,39.98 L122.00,39.99 L122.25,39.99 L122.50,39.99 L122.75,39.99 L123.00,40.00 L123.25,40.00 L123.50,40.00 L123.75,40.01 L124.00,40.01 L124.25,40.01 L124.50,40.02 L124.75,40.02 L125.00,40.03 L125.25,40.03 L125.50,40.03 L125.75,40.04 L126.00,40.04 L126.25,40.04 L126.50,40.05 L126.75,40.05 L127.00,40.06 L127.25,40.06 L127.50,40.06 L127.75,40.07 L128.00,40.07 L128.25,40.08 L128.50,40.08 L128.75,40.09 L129.00,40.09 L129.25,40.10 L129.50,40.10 L129.75,40.11 L130.00,40.11 L130.25,40.12 L130.50,40.12 L130.75,40.13 L131.00,40.13 L131.25,40.14 L131.50,40.15 L131.75,40.15 L132.00,40.16 L132.25,40.17 L132.50,40.17 L132.75,40.18 L133.00,40.19 L133.25,40.19 L133.50,40.20 L133.75,40.21 L134.00,40.22 L134.25,40.23 L134.50,40.23 L134.75,40.24 L135.00,40.25 L135.25,40.26 L135.50,40.27 L135.75,40.28 L136.00,40.29 L136.25,40.30 L136.50,40.31 L136.75,40.32 L137.00,40.33 L137.25,40.34 L137.50,40.35 L137.75,40.36 L138.00,40.37 L138.25,40.38 L138.50,40.39 L138.75,40.40 L139.00,40.41 L139.25,40.43 L139.50,40.44 L139.75,40.45 L140.00,40.46 L140.25,40.47 L140.50,40.48 L140.75,40.50 L141.00,40.51 L141.25,40.52 L141.50,40.53 L141.75,40.54 L142.00,40.56 L142.25,40.57 L142.50,40.58 L142.75,40.59 L143.00,40.60 L143.25,40.62 L143.50,40.63 L143.75,40.64 L144.00,40.65 L144.25,40.67 L144.50,40.68 L144.75,40.69 L145.00,40.71 L145.25,40.72 L145.50,40.73 L145.75,40.74 L146.00,40.76 L146.25,40.77 L146.50,40.78 L146.75,40.80 L147.00,40.81 L147.25,40.83 L147.50,40.84 L147.75,40.85 L148.00,40.87 L148.25,40.88 L148.50,40.90 L148.75,40.91 L149.00,40.92 L149.25,40.94 L149.50,40.95 L149.75,40.97 L150.00,40.98 L150.25,41.00 L150.50,41.01 L150.75,41.03 L151.00,41.05 L151.25,41.06 L151.50,41.08 L151.75,41.09 L152.00,41.11 L152.25,41.12 L152.50,41.14 L152.75,41.16 L153.00,41.17 L153.25,41.19 L153.50,41.21 L153.75,41.22 L154.00,41.24 L154.25,41.26 L154.50,41.27 L154.75,41.29 L155.00,41.31 L155.25,41.33 L155.50,41.34 L155.75,41.36 L156.00,41.38 L156.25,41.40 L156.50,41.42 L156.75,41.43 L157.00,41.45 L157.25,41.47 L157.50,41.49 L157.75,41.51 L158.00,41.53 L158.25,41.55 L158.50,41.57 L158.75,41.59 L159.00,41.60 L159.25,41.62 L159.50,41.64 L159.75,41.66 L160.00,41.68 L160.25,41.70 L160.50,41.72 L160.75,41.74 L161.00,41.76 L161.25,41.79 L161.50,41.81 L161.75,41.83 L162.00,41.85 L162.25,41.87 L162.50,41.89 L162.75,41.91 L163.00,41.93 L163.25,41.95 L163.50,41.98 L163.75,42.00 L164.00,42.02 L164.25,42.04 L164.50,42.06 L164.75,42.08 L165.00,42.11 L165.25,42.13 L165.50,42.15 L165.75,42.17 L166.00,42.20 L166.25,42.22 L166.50,42.24 L166.75,42.27 L167.00,42.29 L167.25,42.31 L167.50,42.34 L167.75,42.36 L168.00,42.38 L168.25,42.41 L168.50,42.43 L168.75,42.45 L169.00,42.48 L169.25,42.50 L169.50,42.53 L169.75,42.55 L170.00,42.58 L170.25,42.60 L170.50,42.63 L170.75,42.65 L171.00,42.68 L171.25,42.71 L171.50,42.73 L171.75,42.76 L172.00,42.78 L172.25,42.81 L172.50,42.84 L172.75,42.87 L173.00,42.89 L173.25,42.92 L173.50,42.95 L173.75,42.98 L174.00,43.01 L174.25,43.03 L174.50,43.06 L174.75,43.09 L175.00,43.12 L175.25,43.15 L175.50,43.18 L175.75,43.21 L176.00,43.24 L176.25,43.27 L176.50,43.31 L176.75,43.34 L177.00,43.37 L177.25,43.40 L177.50,43.43 L177.75,43.47 L178.00,43.50 L178.25,43.53 L178.50,43.57 L178.75,43.60 L179.00,43.63 L179.25,43.67 L179.50,43.70 L179.75,43.74 L180.00,43.77 L180.25,43.81 L180.50,43.84 L180.75,43.88 L181.00,43.91 L181.25,43.95 L181.50,43.99 L181.75,44.02 L182.00,44.06 L182.25,44.10 L182.50,44.13 L182.75,44.17 L183.00,44.21 L183.25,44.24 L183.50,44.28 L183.75,44.32 L184.00,44.36 L184.25,44.39 L184.50,44.43 L184.75,44.47 L185.00,44.51 L185.25,44.55 L185.50,44.59 L185.75,44.63 L186.00,44.67 L186.25,44.71 L186.50,44.75 L186.75,44.79 L187.00,44.83 L187.25,44.87 L187.50,44.91 L187.75,44.95 L188.00,45.00 L188.25,45.04 L188.50,45.08 L188.75,45.13 L189.00,45.17 L189.25,45.22 L189.50,45.27 L189.75,45.32 L190.00,45.36 L190.25,45.41 L190.50,45.46 L190.75,45.51 L191.00,45.56 L191.25,45.62 L191.50,45.67 L191.75,45.72 L192.00,45.78 L192.25,45.83 L192.50,45.89 L192.75,45.95 L193.00,46.01 L193.25,46.06 L193.50,46.12 L193.75,46.19 L194.00,46.25 L194.25,46.31 L194.50,46.37 L194.75,46.44 L195.00,46.50 L195.25,46.57 L195.50,46.63 L195.75,46.70 L196.00,46.77 L196.25,46.84 L196.50,46.91 L196.75,46.98 L197.00,47.05 L197.25,47.12 L197.50,47.19 L197.75,47.27 L198.00,47.34 L198.25,47.42 L198.50,47.49 L198.75,47.57 L199.00,47.65 L199.25,47.73 L199.50,47.81 L199.75,47.89 L200.00,47.97 L200.25,48.06 L200.50,48.14 L200.75,48.22 L201.00,48.31 L201.25,48.40 L201.50,48.49 L201.75,48.57 L202.00,48.66 L202.25,48.76 L202.50,48.85 L202.75,48.94 L203.00,49.04 L203.25,49.13 L203.50,49.23 L203.75,49.32 L204.00,49.42 L204.25,49.52 L204.50,49.62 L204.75,49.72 L205.00,49.83 L205.25,49.93 L205.50,50.03 L205.75,50.14 L206.00,50.24 L206.25,50.35 L206.50,50.46 L206.75,50.57 L207.00,50.68 L207.25,50.79 L207.50,50.90 L207.75,51.01 L208.00,51.13 L208.25,51.24 L208.50,51.35 L208.75,51.47 L209.00,51.59 L209.25,51.70 L209.50,51.82 L209.75,51.94 L210.00,52.06 L210.25,52.18 L210.50,52.31 L210.75,52.43 L211.00,52.55 L211.25,52.68 L211.50,52.80 L211.75,52.93 L212.00,53.06 L212.25,53.19 L212.50,53.31 L212.75,53.45 L213.00,53.58 L213.25,53.71 L213.50,53.84 L213.75,53.98 L214.00,54.11 L214.25,54.25 L214.50,54.39 L214.75,54.53 L215.00,54.67 L215.25,54.81 L215.50,54.95 L215.75,55.09 L216.00,55.24 L216.25,55.38 L216.50,55.53 L216.75,55.67 L217.00,55.82 L217.25,55.97 L217.50,56.12 L217.75,56.27 L218.00,56.43 L218.25,56.58 L218.50,56.74 L218.75,56.89 L219.00,57.05 L219.25,57.21 L219.50,57.37 L219.75,57.53 L220.00,57.69 L220.25,57.86 L220.50,58.02 L220.75,58.19 L221.00,58.35 L221.25,58.52 L221.50,58.69 L221.75,58.86 L222.00,59.04 L222.25,59.21 L222.50,59.38 L222.75,59.56 L223.00,59.74 L223.25,59.92 L223.50,60.10 L223.75,60.28 L224.00,60.46 L224.25,60.64 L224.50,60.83 L224.75,61.01 L225.00,61.20 L225.25,61.39 L225.50,61.58 L225.75,61.77 L226.00,61.96 L226.25,62.16 L226.50,62.35 L226.75,62.54 L227.00,62.74 L227.25,62.94 L227.50,63.14 L227.75,63.34 L228.00,63.54 L228.25,63.74 L228.50,63.94 L228.75,64.14 L229.00,64.35 L229.25,64.55 L229.50,64.76 L229.75,64.97 L230.00,65.18 L230.25,65.39 L230.50,65.60 L230.75,65.81 L231.00,66.02 L231.25,66.24 L231.50,66.45 L231.75,66.67 L232.00,66.89 L232.25,67.11 L232.50,67.33 L232.75,67.55 L233.00,67.77 L233.25,67.99 L233.50,68.22 L233.75,68.44 L234.00,68.67 L234.25,68.89 L234.50,69.12 L234.75,69.35 L235.00,69.58 L235.25,69.81 L235.50,70.04 L235.75,70.28 L236.00,70.51 L236.25,70.74 L236.50,70.98 L236.75,71.22 L237.00,71.45 L237.25,71.69 L237.50,71.93 L237.75,72.17 L238.00,72.41 L238.25,72.65 L238.50,72.89 L238.75,73.14 L239.00,73.38 L239.25,73.63 L239.50,73.87 L239.75,74.12 L240.00,74.37 L240.25,74.61 L240.50,74.86 L240.75,75.11 L241.00,75.36 L241.25,75.62 L241.50,75.87 L241.75,76.12 L242.00,76.38 L242.25,76.63 L242.50,76.89 L242.75,77.14 L243.00,77.40 L243.25,77.65 L243.50,77.92 L243.75,78.13 L244.00,78.45 L244.25,78.63 L244.50,79.01 L244.75,79.20 L245.00,79.53 L245.25,79.60 L245.50,80.14 L245.75,80.09 L246.00,80.57 L246.25,80.60 L246.50,81.16 L246.75,81.20 L247.00,81.66 L247.25,81.57 L247.50,82.37 L247.75,82.13 L248.00,82.91 L248.25,82.76 L248.50,83.14 L248.75,83.15 L249.00,84.01 L249.25,83.64 L249.50,84.35 L249.75,84.01 L250.00,85.03 L250.25,84.70 L250.50,85.55 L250.75,85.08 L251.00,85.83 L251.25,85.61 L251.50,86.64 L251.75,86.37 L252.00,86.96 L252.25,86.93 L252.50,87.51 L252.75,87.44 L253.00,88.24 L253.25,87.45 L253.50,88.46 L253.75,87.90 L254.00,89.09 L254.25,89.03 L254.50,89.73 L254.75,89.17 L255.00,90.20 L255.25,89.64 L255.50,90.98 L255.75,90.08 L256.00,91.53 L256.25,90.34 L256.50,91.95 L256.75,90.74 L257.00,92.05 L257.25,91.11 L257.50,92.85 L257.75,92.36 L258.00,93.01 L258.25,92.05 L258.50,93.82 L258.75,93.33 L259.00,93.81 L259.25,92.92 L259.50,94.39 L259.75,93.69 L260.00,95.11 L260.25,94.62 L260.50,95.44 L260.75,94.45 L261.00,95.45 L261.25,94.93 L261.50,96.52 L261.75,95.23 L262.00,96.50 L262.25,95.79 L262.50,96.88 L262.75,96.22 L263.00,97.43 L263.25,96.59 L263.50,98.09 L263.75,97.19 L264.00,98.60 L264.25,97.12 L264.50,98.99 L264.75,97.78 L265.00,99.16 L265.25,97.92 L265.50,99.73 L265.75,98.27 L266.00,99.80 L266.25,99.06 L266.50,100.33 L266.75,98.83 L267.00,100.58 L267.25,99.41 L267.50,100.28 L267.75,99.45 L268.00,101.37 L268.25,99.99 L268.50,101.47 L268.75,100.25 L269.00,102.01 L269.25,100.83 L269.50,101.77 L269.75,101.12 L270.00,102.04 L270.25,101.33 L270.50,102.84 L270.75,101.68 L271.00,102.93 L271.25,102.15 L271.50,103.54 L271.75,102.41 L272.00,103.77 L272.25,102.61 L272.50,104.03 L272.75,102.98 L273.00,104.12 L273.25,102.87 L273.50,103.98 L273.75,103.11 L274.00,104.56 L274.25,103.17 L274.50,104.39 L274.75,103.67 L275.00,104.50 L275.25,103.67 L275.50,104.81 L275.75,103.89 L276.00,105.64 L276.25,104.07 L276.50,105.74 L276.75,104.95 L277.00,106.09 L277.25,105.27 L277.50,105.78 L277.75,105.16 L278.00,106.38 L278.25,105.60 L278.50,106.58 L278.75,105.67 L279.00,106.58 L279.25,105.33 L279.50,107.00 L279.75,105.48 L280.00,107.31 L280.25,106.08 L280.50,107.58 L280.75,106.06 L281.00,107.34 L281.25,106.54 L281.50,107.60 L281.75,106.64 L282.00,108.18 L282.25,106.45 L282.50,107.62 L282.75,106.95 L283.00,107.94 L283.25,106.85 L283.50,108.43 L283.75,107.28 L284.00,108.77 L284.25,107.16 L284.50,108.17 L284.75,107.88 L285.00,108.49 L285.25,107.43 L285.50,108.96 L285.75,108.02 L286.00,109.07 L286.25,108.34 L286.50,109.11 L286.75,108.29 L287.00,109.81 L287.25,108.42 L287.50,109.25 L287.75,108.60 L288.00,109.77 L288.25,108.42 L288.50,110.13 L288.75,108.74 L289.00,109.97 L289.25,109.29 L289.50,109.99 L289.75,109.17 L290.00,110.66 L290.25,109.75 L290.50,110.47 L290.75,109.21 L291.00,110.28 L291.25,109.47 L291.50,111.03 L291.75,109.55 L292.00,110.82 L292.25,109.44 L292.50,111.09 L292.75,109.80 L293.00,111.08 L293.25,109.78 L293.50,111.21 L293.75,110.05 L294.00,111.41 L294.25,110.30 L294.50,111.34 L294.75,110.55 L295.00,111.74 L295.25,110.44 L295.50,111.59 L295.75,110.49 L296.00,112.25 L296.25,110.62 L296.50,112.18 L296.75,110.62 L297.00,112.30 L297.25,111.19 L297.50,111.97 L297.75,111.28 L298.00,112.45 L298.25,111.38 L298.50,112.28 L298.75,111.04 L299.00,112.98 L299.25,111.83 L299.50,112.82 L299.75,111.25 L300.00,113.26 L300.25,111.92 L300.50,112.81 L300.75,112.11 L301.00,112.62 L301.25,111.76 L301.50,113.62 L301.75,112.66 L302.00,113.76 L302.25,112.42 L302.50,113.49 L302.75,112.24 L303.00,113.31 L303.25,112.31 L303.50,113.58 L303.75,113.10 L304.00,113.88 L304.25,113.06 L304.50,114.04 L304.75,113.39 L305.00,114.22 L305.25,112.93 L305.50,114.33 L305.75,113.27 L306.00,114.44 L306.25,113.67 L306.50,114.98 L306.75,113.48 L307.00,115.05 L307.25,113.70 L307.50,115.14 L307.75,113.95 L308.00,115.22 L308.25,113.98 L308.50,115.26 L308.75,114.35 L309.00,115.15 L309.25,114.22 L309.50,115.42 L309.75,114.62 L310.00,115.82 L310.25,115.20 L310.50,116.09 L310.75,114.98 L311.00,116.50 L311.25,115.60 L311.50,116.47 L311.75,115.14 L312.00,116.77 L312.25,115.69 L312.50,116.99 L312.75,116.25 L313.00,117.50 L313.25,116.37 L313.50,117.56 L313.75,116.61 L314.00,117.72 L314.25,116.98 L314.50,117.62 L314.75,116.70 L315.00,117.82 L315.73,118.00 L316.43,118.50 L317.07,119.00 L317.67,119.50 L318.21,120.00 L318.73,120.50 L319.20,121.00 L319.63,121.50 L320.00,122.00 L320.33,122.50 L320.65,123.00 L320.96,123.50 L321.24,124.00 L321.50,124.50 L321.71,125.00 L321.88,125.50 L322.00,126.00 L322.09,126.50 L322.16,127.00 L322.23,127.50 L322.30,128.00 L322.36,128.50 L322.41,129.00 L322.46,129.50 L322.50,130.00 L322.54,130.50 L322.58,131.00 L322.62,131.50 L322.66,132.00 L322.69,132.50 L322.73,133.00 L322.76,133.50 L322.80,134.00 L322.84,134.50 L322.88,135.00 L322.92,135.50 L322.96,136.00 L323.00,136.50 L323.04,137.00 L323.08,137.50 L323.12,138.00 L323.16,138.50 L323.20,139.00 L323.24,139.50 L323.28,140.00 L323.32,140.50 L323.36,141.00 L323.40,141.50 L323.44,142.00 L323.48,142.50 L323.51,143.00 L323.55,143.50 L323.59,144.00 L323.63,144.50 L323.66,145.00 L323.70,145.50 L323.73,146.00 L323.76,146.50 L323.80,147.00 L323.83,147.50 L323.86,148.00 L323.89,148.50 L323.92,149.00 L323.95,149.50 L323.97,150.00 L324.00,150.50 L324.02,151.00 L324.05,151.50 L324.07,152.00 L324.09,152.50 L324.11,153.00 L324.12,153.50 L324.14,154.00 L324.15,154.50 L324.17,155.00 L324.18,155.50 L324.18,156.00 L324.19,156.50 L324.20,157.00 L324.20,157.50 L324.20,158.00 L324.20,158.50 L324.20,159.00 L324.20,159.50 L324.20,160.00 L324.20,160.50 L324.20,161.00 L324.20,161.50 L324.20,162.00 L324.20,162.50 L324.20,163.00 L324.20,163.50 L324.20,164.00 L324.20,164.50 L324.20,165.00 L324.20,165.50 L324.20,166.00 L324.20,166.50 L324.20,167.00 L324.20,167.50 L324.20,168.00 L324.20,168.50 L324.20,169.00 L324.20,169.50 L324.20,170.00 L324.20,170.50 L324.20,171.00 L324.20,171.50 L324.20,172.00 L324.20,172.50 L324.20,173.00 L324.20,173.50 L324.20,174.00 L324.20,174.50 L324.20,175.00 L324.20,175.50 L324.20,176.00 L324.20,176.50 L324.20,177.00 L324.20,177.50 L324.20,178.00 L324.20,178.50 L324.20,179.00 L324.20,179.50 L324.20,180.00 L324.20,180.50 L324.20,181.00 L324.20,181.50 L324.20,182.00 L324.20,182.50 L324.20,183.00 L324.20,183.50 L324.20,184.00 L324.20,184.50 L324.20,185.00 L324.20,185.50 L324.20,186.00 L324.20,186.50 L324.20,187.00" stroke="#ff00ff" stroke-width="1.45" fill="none" stroke-linejoin="round" stroke-linecap="butt"/>
<path d="M48.40,39.90 L48.65,39.90 L48.90,39.90 L49.15,39.90 L49.40,39.90 L49.65,39.90 L49.90,39.90 L50.15,39.90 L50.40,39.90 L50.65,39.90 L50.90,39.90 L51.15,39.90 L51.40,39.90 L51.65,39.90 L51.90,39.90 L52.15,39.90 L52.40,39.90 L52.65,39.90 L52.90,39.90 L53.15,39.90 L53.40,39.90 L53.65,39.90 L53.90,39.90 L54.15,39.90 L54.40,39.90 L54.65,39.90 L54.90,39.90 L55.15,39.90 L55.40,39.90 L55.65,39.90 L55.90,39.90 L56.15,39.90 L56.40,39.90 L56.65,39.90 L56.90,39.90 L57.15,39.90 L57.40,39.90 L57.65,39.90 L57.90,39.90 L58.15,39.90 L58.40,39.90 L58.65,39.90 L58.90,39.90 L59.15,39.90 L59.40,39.90 L59.65,39.90 L59.90,39.90 L60.15,39.90 L60.40,39.90 L60.65,39.90 L60.90,39.90 L61.15,39.90 L61.40,39.90 L61.65,39.90 L61.90,39.90 L62.15,39.90 L62.40,39.90 L62.65,39.90 L62.90,39.90 L63.15,39.90 L63.40,39.90 L63.65,39.90 L63.90,39.90 L64.15,39.90 L64.40,39.90 L64.65,39.90 L64.90,39.90 L65.15,39.90 L65.40,39.90 L65.65,39.90 L65.90,39.90 L66.15,39.90 L66.40,39.90 L66.65,39.90 L66.90,39.90 L67.15,39.90 L67.40,39.90 L67.65,39.90 L67.90,39.90 L68.15,39.90 L68.40,39.90 L68.65,39.90 L68.90,39.90 L69.15,39.90 L69.40,39.90 L69.65,39.90 L69.90,39.90 L70.15,39.90 L70.40,39.90 L70.65,39.90 L70.90,39.90 L71.15,39.90 L71.40,39.90 L71.65,39.90 L71.90,39.90 L72.15,39.90 L72.40,39.90 L72.65,39.90 L72.90,39.90 L73.15,39.90 L73.40,39.90 L73.65,39.90 L73.90,39.90 L74.15,39.90 L74.40,39.90 L74.65,39.90 L74.90,39.90 L75.15,39.90 L75.40,39.90 L75.65,39.90 L75.90,39.90 L76.15,39.90 L76.40,39.90 L76.65,39.90 L76.90,39.90 L77.15,39.90 L77.40,39.90 L77.65,39.90 L77.90,39.90 L78.15,39.90 L78.40,39.90 L78.65,39.90 L78.90,39.90 L79.15,39.90 L79.40,39.90 L79.65,39.90 L79.90,39.90 L80.15,39.90 L80.40,39.90 L80.65,39.90 L80.90,39.90 L81.15,39.90 L81.40,39.90 L81.65,39.90 L81.90,39.90 L82.15,39.90 L82.40,39.90 L82.65,39.90 L82.90,39.90 L83.15,39.90 L83.40,39.90 L83.65,39.90 L83.90,39.90 L84.15,39.90 L84.40,39.90 L84.65,39.90 L84.90,39.90 L85.15,39.90 L85.40,39.90 L85.65,39.90 L85.90,39.90 L86.15,39.90 L86.40,39.90 L86.65,39.90 L86.90,39.90 L87.15,39.90 L87.40,39.90 L87.65,39.90 L87.90,39.90 L88.15,39.90 L88.40,39.90 L88.65,39.90 L88.90,39.90 L89.15,39.90 L89.40,39.90 L89.65,39.90 L89.90,39.90 L90.15,39.90 L90.40,39.90 L90.65,39.90 L90.90,39.90 L91.15,39.90 L91.40,39.90 L91.65,39.90 L91.90,39.90 L92.15,39.90 L92.40,39.90 L92.65,39.90 L92.90,39.90 L93.15,39.90 L93.40,39.90 L93.65,39.90 L93.90,39.90 L94.15,39.90 L94.40,39.90 L94.65,39.90 L94.90,39.90 L95.15,39.90 L95.40,39.90 L95.65,39.90 L95.90,39.90 L96.15,39.90 L96.40,39.90 L96.65,39.90 L96.90,39.90 L97.15,39.90 L97.40,39.90 L97.65,39.90 L97.90,39.90 L98.15,39.90 L98.40,39.90 L98.65,39.90 L98.90,39.90 L99.15,39.90 L99.40,39.90 L99.65,39.90 L99.90,39.90 L100.15,39.90 L100.40,39.90 L100.65,39.90 L100.90,39.90 L101.15,39.90 L101.40,39.90 L101.65,39.90 L101.90,39.90 L102.15,39.90 L102.40,39.90 L102.65,39.90 L102.90,39.90 L103.15,39.90 L103.40,39.90 L103.65,39.90 L103.90,39.90 L104.15,39.90 L104.40,39.90 L104.65,39.90 L104.90,39.90 L105.15,39.90 L105.40,39.90 L105.65,39.90 L105.90,39.90 L106.15,39.90 L106.40,39.90 L106.65,39.90 L106.90,39.90 L107.15,39.90 L107.40,39.90 L107.65,39.91 L107.90,39.91 L108.15,39.91 L108.40,39.91 L108.65,39.91 L108.90,39.91 L109.15,39.91 L109.40,39.91 L109.65,39.91 L109.90,39.91 L110.15,39.91 L110.40,39.91 L110.65,39.91 L110.90,39.91 L111.15,39.91 L111.40,39.91 L111.65,39.91 L111.90,39.91 L112.15,39.91 L112.40,39.91 L112.65,39.91 L112.90,39.91 L113.15,39.91 L113.40,39.91 L113.65,39.91 L113.90,39.91 L114.15,39.92 L114.40,39.92 L114.65,39.92 L114.90,39.92 L115.15,39.92 L115.40,39.92 L115.65,39.92 L115.90,39.92 L116.15,39.92 L116.40,39.92 L116.65,39.92 L116.90,39.92 L117.15,39.92 L117.40,39.92 L117.65,39.92 L117.90,39.92 L118.15,39.92 L118.40,39.92 L118.65,39.93 L118.90,39.93 L119.15,39.93 L119.40,39.93 L119.65,39.93 L119.90,39.93 L120.15,39.93 L120.40,39.93 L120.65,39.93 L120.90,39.93 L121.15,39.93 L121.40,39.93 L121.65,39.93 L121.90,39.93 L122.15,39.93 L122.40,39.94 L122.65,39.94 L122.90,39.94 L123.15,39.94 L123.40,39.94 L123.65,39.94 L123.90,39.94 L124.15,39.94 L124.40,39.94 L124.65,39.94 L124.90,39.94 L125.15,39.94 L125.40,39.94 L125.65,39.95 L125.90,39.95 L126.15,39.95 L126.40,39.95 L126.65,39.95 L126.90,39.95 L127.15,39.95 L127.40,39.95 L127.65,39.95 L127.90,39.95 L128.15,39.95 L128.40,39.95 L128.65,39.96 L128.90,39.96 L129.15,39.96 L129.40,39.96 L129.65,39.96 L129.90,39.96 L130.15,39.96 L130.40,39.96 L130.65,39.96 L130.90,39.96 L131.15,39.96 L131.40,39.97 L131.65,39.97 L131.90,39.97 L132.15,39.97 L132.40,39.97 L132.65,39.97 L132.90,39.97 L133.15,39.97 L133.40,39.97 L133.65,39.97 L133.90,39.97 L134.15,39.98 L134.40,39.98 L134.65,39.98 L134.90,39.98 L135.15,39.98 L135.40,39.98 L135.65,39.98 L135.90,39.98 L136.15,39.98 L136.40,39.99 L136.65,39.99 L136.90,39.99 L137.15,39.99 L137.40,39.99 L137.65,39.99 L137.90,39.99 L138.15,39.99 L138.40,39.99 L138.65,40.00 L138.90,40.00 L139.15,40.00 L139.40,40.00 L139.65,40.00 L139.90,40.00 L140.15,40.00 L140.40,40.00 L140.65,40.01 L140.90,40.01 L141.15,40.01 L141.40,40.01 L141.65,40.01 L141.90,40.01 L142.15,40.01 L142.40,40.02 L142.65,40.02 L142.90,40.02 L143.15,40.02 L143.40,40.02 L143.65,40.02 L143.90,40.02 L144.15,40.03 L144.40,40.03 L144.65,40.03 L144.90,40.03 L145.15,40.03 L145.40,40.04 L145.65,40.04 L145.90,40.04 L146.15,40.04 L146.40,40.04 L146.65,40.05 L146.90,40.05 L147.15,40.05 L147.40,40.05 L147.65,40.06 L147.90,40.06 L148.15,40.06 L148.40,40.06 L148.65,40.06 L148.90,40.07 L149.15,40.07 L149.40,40.07 L149.65,40.08 L149.90,40.08 L150.15,40.08 L150.40,40.08 L150.65,40.09 L150.90,40.09 L151.15,40.09 L151.40,40.09 L151.65,40.10 L151.90,40.10 L152.15,40.10 L152.40,40.11 L152.65,40.11 L152.90,40.11 L153.15,40.12 L153.40,40.12 L153.65,40.12 L153.90,40.12 L154.15,40.13 L154.40,40.13 L154.65,40.13 L154.90,40.14 L155.15,40.14 L155.40,40.15 L155.65,40.15 L155.90,40.15 L156.15,40.16 L156.40,40.16 L156.65,40.16 L156.90,40.17 L157.15,40.17 L157.40,40.17 L157.65,40.18 L157.90,40.18 L158.15,40.19 L158.40,40.19 L158.65,40.19 L158.90,40.20 L159.15,40.20 L159.40,40.20 L159.65,40.21 L159.90,40.21 L160.15,40.22 L160.40,40.22 L160.65,40.23 L160.90,40.23 L161.15,40.23 L161.40,40.24 L161.65,40.24 L161.90,40.25 L162.15,40.25 L162.40,40.26 L162.65,40.26 L162.90,40.27 L163.15,40.27 L163.40,40.28 L163.65,40.28 L163.90,40.29 L164.15,40.29 L164.40,40.30 L164.65,40.30 L164.90,40.31 L165.15,40.31 L165.40,40.32 L165.65,40.32 L165.90,40.33 L166.15,40.34 L166.40,40.34 L166.65,40.35 L166.90,40.35 L167.15,40.36 L167.40,40.37 L167.65,40.37 L167.90,40.38 L168.15,40.39 L168.40,40.40 L168.65,40.40 L168.90,40.41 L169.15,40.42 L169.40,40.43 L169.65,40.43 L169.90,40.44 L170.15,40.45 L170.40,40.46 L170.65,40.47 L170.90,40.48 L171.15,40.49 L171.40,40.49 L171.65,40.50 L171.90,40.51 L172.15,40.52 L172.40,40.53 L172.65,40.54 L172.90,40.55 L173.15,40.56 L173.40,40.57 L173.65,40.58 L173.90,40.59 L174.15,40.60 L174.40,40.61 L174.65,40.62 L174.90,40.63 L175.15,40.64 L175.40,40.66 L175.65,40.67 L175.90,40.68 L176.15,40.69 L176.40,40.70 L176.65,40.71 L176.90,40.72 L177.15,40.73 L177.40,40.74 L177.65,40.76 L177.90,40.77 L178.15,40.78 L178.40,40.79 L178.65,40.80 L178.90,40.81 L179.15,40.82 L179.40,40.84 L179.65,40.85 L179.90,40.86 L180.15,40.87 L180.40,40.88 L180.65,40.89 L180.90,40.91 L181.15,40.92 L181.40,40.93 L181.65,40.94 L181.90,40.95 L182.15,40.97 L182.40,40.98 L182.65,40.99 L182.90,41.00 L183.15,41.01 L183.40,41.02 L183.65,41.04 L183.90,41.05 L184.15,41.06 L184.40,41.07 L184.65,41.08 L184.90,41.10 L185.15,41.11 L185.40,41.12 L185.65,41.13 L185.90,41.14 L186.15,41.15 L186.40,41.17 L186.65,41.18 L186.90,41.19 L187.15,41.20 L187.40,41.21 L187.65,41.23 L187.90,41.24 L188.15,41.25 L188.40,41.26 L188.65,41.28 L188.90,41.29 L189.15,41.30 L189.40,41.31 L189.65,41.32 L189.90,41.34 L190.15,41.35 L190.40,41.36 L190.65,41.37 L190.90,41.39 L191.15,41.40 L191.40,41.41 L191.65,41.43 L191.90,41.44 L192.15,41.45 L192.40,41.47 L192.65,41.48 L192.90,41.49 L193.15,41.50 L193.40,41.52 L193.65,41.53 L193.90,41.55 L194.15,41.56 L194.40,41.57 L194.65,41.59 L194.90,41.60 L195.15,41.62 L195.40,41.63 L195.65,41.64 L195.90,41.66 L196.15,41.67 L196.40,41.69 L196.65,41.70 L196.90,41.72 L197.15,41.73 L197.40,41.75 L197.65,41.76 L197.90,41.78 L198.15,41.79 L198.40,41.81 L198.65,41.82 L198.90,41.84 L199.15,41.86 L199.40,41.87 L199.65,41.89 L199.90,41.91 L200.15,41.92 L200.40,41.94 L200.65,41.96 L200.90,41.97 L201.15,41.99 L201.40,42.01 L201.65,42.03 L201.90,42.04 L202.15,42.06 L202.40,42.08 L202.65,42.10 L202.90,42.12 L203.15,42.14 L203.40,42.16 L203.65,42.17 L203.90,42.19 L204.15,42.21 L204.40,42.23 L204.65,42.25 L204.90,42.27 L205.15,42.29 L205.40,42.31 L205.65,42.33 L205.90,42.35 L206.15,42.37 L206.40,42.39 L206.65,42.42 L206.90,42.44 L207.15,42.46 L207.40,42.48 L207.65,42.50 L207.90,42.52 L208.15,42.54 L208.40,42.56 L208.65,42.58 L208.90,42.61 L209.15,42.63 L209.40,42.65 L209.65,42.67 L209.90,42.69 L210.15,42.72 L210.40,42.74 L210.65,42.76 L210.90,42.78 L211.15,42.80 L211.40,42.83 L211.65,42.85 L211.90,42.87 L212.15,42.89 L212.40,42.92 L212.65,42.94 L212.90,42.96 L213.15,42.99 L213.40,43.01 L213.65,43.03 L213.90,43.06 L214.15,43.08 L214.40,43.11 L214.65,43.13 L214.90,43.15 L215.15,43.18 L215.40,43.21 L215.65,43.23 L215.90,43.26 L216.15,43.28 L216.40,43.31 L216.65,43.34 L216.90,43.37 L217.15,43.39 L217.40,43.42 L217.65,43.45 L217.90,43.48 L218.15,43.51 L218.40,43.54 L218.65,43.57 L218.90,43.61 L219.15,43.64 L219.40,43.67 L219.65,43.71 L219.90,43.74 L220.15,43.78 L220.40,43.81 L220.65,43.85 L220.90,43.89 L221.15,43.93 L221.40,43.97 L221.65,44.01 L221.90,44.05 L222.15,44.09 L222.40,44.13 L222.65,44.17 L222.90,44.22 L223.15,44.26 L223.40,44.31 L223.65,44.35 L223.90,44.40 L224.15,44.45 L224.40,44.49 L224.65,44.54 L224.90,44.59 L225.15,44.64 L225.40,44.69 L225.65,44.75 L225.90,44.80 L226.15,44.85 L226.40,44.90 L226.65,44.96 L226.90,45.01 L227.15,45.07 L227.40,45.13 L227.65,45.18 L227.90,45.24 L228.15,45.30 L228.40,45.36 L228.65,45.42 L228.90,45.48 L229.15,45.54 L229.40,45.60 L229.65,45.66 L229.90,45.73 L230.15,45.79 L230.40,45.85 L230.65,45.92 L230.90,45.99 L231.15,46.05 L231.40,46.12 L231.65,46.19 L231.90,46.26 L232.15,46.33 L232.40,46.40 L232.65,46.47 L232.90,46.54 L233.15,46.61 L233.40,46.68 L233.65,46.76 L233.90,46.83 L234.15,46.91 L234.40,46.98 L234.65,47.06 L234.90,47.14 L235.15,47.21 L235.40,47.29 L235.65,47.37 L235.90,47.45 L236.15,47.53 L236.40,47.61 L236.65,47.69 L236.90,47.77 L237.15,47.86 L237.40,47.94 L237.65,48.02 L237.90,48.11 L238.15,48.19 L238.40,48.27 L238.65,48.36 L238.90,48.44 L239.15,48.53 L239.40,48.61 L239.65,48.70 L239.90,48.79 L240.15,48.87 L240.40,48.96 L240.65,49.05 L240.90,49.14 L241.15,49.23 L241.40,49.32 L241.65,49.40 L241.90,49.49 L242.15,49.59 L242.40,49.68 L242.65,49.77 L242.90,49.86 L243.15,49.95 L243.40,50.05 L243.65,50.14 L243.90,50.23 L244.15,50.33 L244.40,50.42 L244.65,50.52 L244.90,50.62 L245.15,50.71 L245.40,50.81 L245.65,50.91 L245.90,51.01 L246.15,51.11 L246.40,51.21 L246.65,51.32 L246.90,51.42 L247.15,51.53 L247.40,51.63 L247.65,51.74 L247.90,51.84 L248.15,51.95 L248.40,52.08 L248.65,52.16 L248.90,52.32 L249.15,52.36 L249.40,52.57 L249.65,52.55 L249.90,52.83 L250.15,52.81 L250.40,53.05 L250.65,52.97 L250.90,53.35 L251.15,53.26 L251.40,53.62 L251.65,53.49 L251.90,53.81 L252.15,53.67 L252.40,54.10 L252.65,53.96 L252.90,54.36 L253.15,54.21 L253.40,54.57 L253.65,54.58 L253.90,55.00 L254.15,54.70 L254.40,55.28 L254.65,54.91 L254.90,55.46 L255.15,55.32 L255.40,55.77 L255.65,55.58 L255.90,56.22 L256.15,55.84 L256.40,56.40 L256.65,56.04 L256.90,56.66 L257.15,56.55 L257.40,57.17 L257.65,56.59 L257.90,57.36 L258.15,56.93 L258.40,57.52 L258.65,57.33 L258.90,58.16 L259.15,57.72 L259.40,58.41 L259.65,57.89 L259.90,58.88 L260.15,58.46 L260.40,59.29 L260.65,58.87 L260.90,59.78 L261.15,59.12 L261.40,59.82 L261.65,59.49 L261.90,60.57 L262.15,59.79 L262.40,60.80 L262.65,59.81 L262.90,61.37 L263.15,60.78 L263.40,61.58 L263.65,60.74 L263.90,62.09 L264.15,61.30 L264.40,62.29 L264.65,62.08 L264.90,62.42 L265.15,61.96 L265.40,62.91 L265.65,62.64 L265.90,63.59 L266.15,63.22 L266.40,63.71 L266.65,63.02 L266.90,64.56 L267.15,63.93 L267.40,65.19 L267.65,64.66 L267.90,65.31 L268.15,64.31 L268.40,66.22 L268.65,64.95 L268.90,66.07 L269.15,65.63 L269.40,66.43 L269.65,66.19 L269.90,66.89 L270.15,66.76 L270.40,67.98 L270.65,67.27 L270.90,68.06 L271.15,67.09 L271.40,68.73 L271.65,67.98 L271.90,68.95 L272.15,68.11 L272.40,70.00 L272.65,68.78 L272.90,70.46 L273.15,69.72 L273.40,70.67 L273.65,69.74 L273.90,71.72 L274.15,70.07 L274.40,72.04 L274.65,70.80 L274.90,71.85 L275.15,71.04 L275.40,72.49 L275.65,72.24 L275.90,73.67 L276.15,72.12 L276.40,74.28 L276.65,72.93 L276.90,74.26 L277.15,74.00 L277.40,75.42 L277.65,73.58 L277.90,75.44 L278.15,74.19 L278.40,76.16 L278.65,75.21 L278.90,76.81 L279.15,76.26 L279.40,77.31 L279.65,76.43 L279.90,78.11 L280.15,76.65 L280.40,78.80 L280.65,76.88 L280.90,78.88 L281.15,78.00 L281.40,80.00 L281.65,78.32 L281.90,79.71 L282.15,79.50 L282.40,81.21 L282.65,79.37 L282.90,80.77 L283.15,80.00 L283.40,81.96 L283.65,80.65 L283.90,82.94 L284.15,80.76 L284.40,82.65 L284.65,82.16 L284.90,83.62 L285.15,81.99 L285.40,84.43 L285.65,82.66 L285.90,84.96 L286.15,83.81 L286.40,85.76 L286.65,84.80 L286.90,86.24 L287.15,84.99 L287.40,86.60 L287.65,84.78 L287.90,87.24 L288.15,86.40 L288.40,87.70 L288.65,86.19 L288.90,87.72 L289.15,87.21 L289.40,88.18 L289.65,87.45 L289.90,89.36 L290.15,88.05 L290.40,89.82 L290.65,88.47 L290.90,90.21 L291.15,88.81 L291.40,91.59 L291.65,89.75 L291.90,91.70 L292.15,89.97 L292.40,92.05 L292.65,90.57 L292.90,92.60 L293.15,91.19 L293.40,93.21 L293.65,91.85 L293.90,94.32 L294.15,93.13 L294.40,94.77 L294.65,93.00 L294.90,94.89 L295.15,93.75 L295.40,94.97 L295.65,94.40 L295.90,96.22 L296.15,95.19 L296.40,96.80 L296.65,94.78 L296.90,97.60 L297.15,95.36 L297.40,97.98 L297.65,96.64 L297.90,98.64 L298.15,97.13 L298.40,99.09 L298.65,96.95 L298.90,99.39 L299.15,97.79 L299.40,99.42 L299.65,98.31 L299.90,100.06 L300.15,99.32 L300.40,100.33 L300.65,99.07 L300.90,101.70 L301.15,100.31 L301.40,101.07 L301.65,100.64 L301.90,101.86 L302.15,101.24 L302.40,102.91 L302.65,101.45 L302.90,103.25 L303.15,102.21 L303.40,103.98 L303.65,102.59 L303.90,104.21 L304.15,102.88 L304.40,105.17 L304.65,103.63 L304.90,105.50 L305.15,104.03 L305.40,106.13 L305.65,104.42 L305.90,106.26 L306.15,104.44 L306.40,106.90 L306.65,105.80 L306.90,106.75 L307.15,105.30 L307.40,106.98 L307.65,106.43 L307.90,108.57 L308.15,107.43 L308.40,108.20 L308.65,107.49 L308.90,108.53 L309.15,107.64 L309.40,109.65 L309.65,108.27 L309.90,109.50 L310.15,108.24 L310.40,110.76 L310.65,108.92 L310.90,110.47 L311.15,109.40 L311.40,111.51 L311.65,109.97 L311.90,112.16 L312.15,110.47 L312.40,112.27 L312.65,111.31 L312.90,112.74 L313.15,111.06 L313.40,113.29 L313.65,112.01 L313.90,113.89 L314.15,112.04 L314.40,113.85 L314.65,112.76 L314.90,114.54 L315.15,113.47 L315.40,114.85 L315.65,113.45 L315.90,115.16 L316.49,115.10 L316.96,115.60 L317.43,116.10 L317.89,116.60 L318.34,117.10 L318.79,117.60 L319.23,118.10 L319.66,118.60 L320.08,119.10 L320.50,119.60 L320.91,120.10 L321.31,120.60 L321.70,121.10 L322.08,121.60 L322.46,122.10 L322.85,122.60 L323.22,123.10 L323.57,123.60 L323.89,124.10 L324.16,124.60 L324.41,125.10 L324.65,125.60 L324.88,126.10 L325.09,126.60 L325.30,127.10 L325.49,127.60 L325.68,128.10 L325.86,128.60 L326.04,129.10 L326.21,129.60 L326.38,130.10 L326.54,130.60 L326.70,131.10 L326.85,131.60 L327.00,132.10 L327.14,132.60 L327.28,133.10 L327.40,133.60 L327.52,134.10 L327.64,134.60 L327.75,135.10 L327.86,135.60 L327.96,136.10 L328.06,136.60 L328.16,137.10 L328.26,137.60 L328.36,138.10 L328.45,138.60 L328.54,139.10 L328.63,139.60 L328.72,140.10 L328.80,140.60 L328.88,141.10 L328.97,141.60 L329.05,142.10 L329.13,142.60 L329.21,143.10 L329.28,143.60 L329.36,144.10 L329.44,144.60 L329.52,145.10 L329.59,145.60 L329.67,146.10 L329.75,146.60 L329.83,147.10 L329.91,147.60 L329.99,148.10 L330.07,148.60 L330.15,149.10 L330.23,149.60 L330.31,150.10 L330.38,150.60 L330.46,151.10 L330.53,151.60 L330.60,152.10 L330.67,152.60 L330.74,153.10 L330.80,153.60 L330.86,154.10 L330.92,154.60 L330.97,155.10 L331.02,155.60 L331.07,156.10 L331.11,156.60 L331.15,157.10 L331.18,157.60 L331.20,158.10 L331.23,158.60 L331.25,159.10 L331.28,159.60 L331.30,160.10 L331.32,160.60 L331.35,161.10 L331.37,161.60 L331.39,162.10 L331.41,162.60 L331.44,163.10 L331.46,163.60 L331.48,164.10 L331.50,164.60 L331.52,165.10 L331.54,165.60 L331.56,166.10 L331.58,166.60 L331.60,167.10 L331.62,167.60 L331.63,168.10 L331.65,168.60 L331.67,169.10 L331.69,169.60 L331.70,170.10 L331.72,170.60 L331.73,171.10 L331.75,171.60 L331.76,172.10 L331.78,172.60 L331.79,173.10 L331.81,173.60 L331.82,174.10 L331.83,174.60 L331.85,175.10 L331.86,175.60 L331.87,176.10 L331.88,176.60 L331.89,177.10 L331.90,177.60 L331.91,178.10 L331.92,178.60 L331.93,179.10 L331.94,179.60 L331.94,180.10 L331.95,180.60 L331.96,181.10 L331.97,181.60 L331.97,182.10 L331.98,182.60 L331.98,183.10 L331.99,183.60 L331.99,184.10 L331.99,184.60 L331.99,185.10 L332.00,185.60 L332.00,186.10 L332.00,186.60 L332.00,187.10" stroke="#00ffff" stroke-width="1.45" fill="none" stroke-linejoin="round" stroke-linecap="butt"/>
<path d="M48.0,115.0 H333.8" stroke="#2a2a2a" stroke-width="1.1" fill="none"/>
<rect x="48.0" y="10.6" width="285.80" height="206.40" fill="none" stroke="#222" stroke-width="1.1"/>
<path d="M48.00,217.0 v-3.1 M48.00,10.6 v3.1 M65.10,217.0 v-1.6 M65.10,10.6 v1.6 M75.10,217.0 v-1.6 M75.10,10.6 v1.6 M82.20,217.0 v-1.6 M82.20,10.6 v1.6 M87.70,217.0 v-1.6 M87.70,10.6 v1.6 M92.20,217.0 v-1.6 M92.20,10.6 v1.6 M96.00,217.0 v-1.6 M96.00,10.6 v1.6 M99.30,217.0 v-1.6 M99.30,10.6 v1.6 M102.20,217.0 v-1.6 M102.20,10.6 v1.6 M104.80,217.0 v-3.1 M104.80,10.6 v3.1 M121.90,217.0 v-1.6 M121.90,10.6 v1.6 M131.90,217.0 v-1.6 M131.90,10.6 v1.6 M139.00,217.0 v-1.6 M139.00,10.6 v1.6 M144.50,217.0 v-1.6 M144.50,10.6 v1.6 M149.00,217.0 v-1.6 M149.00,10.6 v1.6 M152.80,217.0 v-1.6 M152.80,10.6 v1.6 M156.10,217.0 v-1.6 M156.10,10.6 v1.6 M159.00,217.0 v-1.6 M159.00,10.6 v1.6 M161.60,217.0 v-3.1 M161.60,10.6 v3.1 M178.70,217.0 v-1.6 M178.70,10.6 v1.6 M188.70,217.0 v-1.6 M188.70,10.6 v1.6 M195.80,217.0 v-1.6 M195.80,10.6 v1.6 M201.30,217.0 v-1.6 M201.30,10.6 v1.6 M205.80,217.0 v-1.6 M205.80,10.6 v1.6 M209.60,217.0 v-1.6 M209.60,10.6 v1.6 M212.90,217.0 v-1.6 M212.90,10.6 v1.6 M215.80,217.0 v-1.6 M215.80,10.6 v1.6 M218.40,217.0 v-3.1 M218.40,10.6 v3.1 M235.50,217.0 v-1.6 M235.50,10.6 v1.6 M245.50,217.0 v-1.6 M245.50,10.6 v1.6 M252.60,217.0 v-1.6 M252.60,10.6 v1.6 M258.10,217.0 v-1.6 M258.10,10.6 v1.6 M262.60,217.0 v-1.6 M262.60,10.6 v1.6 M266.40,217.0 v-1.6 M266.40,10.6 v1.6 M269.70,217.0 v-1.6 M269.70,10.6 v1.6 M272.60,217.0 v-1.6 M272.60,10.6 v1.6 M275.20,217.0 v-3.1 M275.20,10.6 v3.1 M292.30,217.0 v-1.6 M292.30,10.6 v1.6 M302.30,217.0 v-1.6 M302.30,10.6 v1.6 M309.40,217.0 v-1.6 M309.40,10.6 v1.6 M314.90,217.0 v-1.6 M314.90,10.6 v1.6 M319.40,217.0 v-1.6 M319.40,10.6 v1.6 M323.20,217.0 v-1.6 M323.20,10.6 v1.6 M326.50,217.0 v-1.6 M326.50,10.6 v1.6 M329.40,217.0 v-1.6 M329.40,10.6 v1.6 M332.00,217.0 v-3.1 M332.00,10.6 v3.1 M48.0,10.60 h3.1 M333.8,10.60 h-3.1 M48.0,13.55 h1.6 M333.8,13.55 h-1.6 M48.0,16.50 h1.6 M333.8,16.50 h-1.6 M48.0,19.45 h1.6 M333.8,19.45 h-1.6 M48.0,22.39 h1.6 M333.8,22.39 h-1.6 M48.0,25.34 h1.6 M333.8,25.34 h-1.6 M48.0,28.29 h1.6 M333.8,28.29 h-1.6 M48.0,31.24 h1.6 M333.8,31.24 h-1.6 M48.0,34.19 h1.6 M333.8,34.19 h-1.6 M48.0,37.14 h1.6 M333.8,37.14 h-1.6 M48.0,40.09 h3.1 M333.8,40.09 h-3.1 M48.0,43.03 h1.6 M333.8,43.03 h-1.6 M48.0,45.98 h1.6 M333.8,45.98 h-1.6 M48.0,48.93 h1.6 M333.8,48.93 h-1.6 M48.0,51.88 h1.6 M333.8,51.88 h-1.6 M48.0,54.83 h1.6 M333.8,54.83 h-1.6 M48.0,57.78 h1.6 M333.8,57.78 h-1.6 M48.0,60.73 h1.6 M333.8,60.73 h-1.6 M48.0,63.67 h1.6 M333.8,63.67 h-1.6 M48.0,66.62 h1.6 M333.8,66.62 h-1.6 M48.0,69.57 h3.1 M333.8,69.57 h-3.1 M48.0,72.52 h1.6 M333.8,72.52 h-1.6 M48.0,75.47 h1.6 M333.8,75.47 h-1.6 M48.0,78.42 h1.6 M333.8,78.42 h-1.6 M48.0,81.37 h1.6 M333.8,81.37 h-1.6 M48.0,84.31 h1.6 M333.8,84.31 h-1.6 M48.0,87.26 h1.6 M333.8,87.26 h-1.6 M48.0,90.21 h1.6 M333.8,90.21 h-1.6 M48.0,93.16 h1.6 M333.8,93.16 h-1.6 M48.0,96.11 h1.6 M333.8,96.11 h-1.6 M48.0,99.06 h3.1 M333.8,99.06 h-3.1 M48.0,102.01 h1.6 M333.8,102.01 h-1.6 M48.0,104.95 h1.6 M333.8,104.95 h-1.6 M48.0,107.90 h1.6 M333.8,107.90 h-1.6 M48.0,110.85 h1.6 M333.8,110.85 h-1.6 M48.0,113.80 h1.6 M333.8,113.80 h-1.6 M48.0,116.75 h1.6 M333.8,116.75 h-1.6 M48.0,119.70 h1.6 M333.8,119.70 h-1.6 M48.0,122.65 h1.6 M333.8,122.65 h-1.6 M48.0,125.59 h1.6 M333.8,125.59 h-1.6 M48.0,128.54 h3.1 M333.8,128.54 h-3.1 M48.0,131.49 h1.6 M333.8,131.49 h-1.6 M48.0,134.44 h1.6 M333.8,134.44 h-1.6 M48.0,137.39 h1.6 M333.8,137.39 h-1.6 M48.0,140.34 h1.6 M333.8,140.34 h-1.6 M48.0,143.29 h1.6 M333.8,143.29 h-1.6 M48.0,146.23 h1.6 M333.8,146.23 h-1.6 M48.0,149.18 h1.6 M333.8,149.18 h-1.6 M48.0,152.13 h1.6 M333.8,152.13 h-1.6 M48.0,155.08 h1.6 M333.8,155.08 h-1.6 M48.0,158.03 h3.1 M333.8,158.03 h-3.1 M48.0,160.98 h1.6 M333.8,160.98 h-1.6 M48.0,163.93 h1.6 M333.8,163.93 h-1.6 M48.0,166.87 h1.6 M333.8,166.87 h-1.6 M48.0,169.82 h1.6 M333.8,169.82 h-1.6 M48.0,172.77 h1.6 M333.8,172.77 h-1.6 M48.0,175.72 h1.6 M333.8,175.72 h-1.6 M48.0,178.67 h1.6 M333.8,178.67 h-1.6 M48.0,181.62 h1.6 M333.8,181.62 h-1.6 M48.0,184.57 h1.6 M333.8,184.57 h-1.6 M48.0,187.51 h3.1 M333.8,187.51 h-3.1 M48.0,190.46 h1.6 M333.8,190.46 h-1.6 M48.0,193.41 h1.6 M333.8,193.41 h-1.6 M48.0,196.36 h1.6 M333.8,196.36 h-1.6 M48.0,199.31 h1.6 M333.8,199.31 h-1.6 M48.0,202.26 h1.6 M333.8,202.26 h-1.6 M48.0,205.21 h1.6 M333.8,205.21 h-1.6 M48.0,208.15 h1.6 M333.8,208.15 h-1.6 M48.0,211.10 h1.6 M333.8,211.10 h-1.6 M48.0,214.05 h1.6 M333.8,214.05 h-1.6 M48.0,217.00 h3.1 M333.8,217.00 h-3.1" stroke="#222" stroke-width="0.75" fill="none"/>
<text x="43.2" y="13.75" font-size="8.8" text-anchor="end">1.3</text>
<text x="43.2" y="43.24" font-size="8.8" text-anchor="end">1.25</text>
<text x="43.2" y="72.72" font-size="8.8" text-anchor="end">1.2</text>
<text x="43.2" y="102.21" font-size="8.8" text-anchor="end">1.15</text>
<text x="43.2" y="131.69" font-size="8.8" text-anchor="end">1.1</text>
<text x="43.2" y="161.18" font-size="8.8" text-anchor="end">1.05</text>
<text x="43.2" y="190.66" font-size="8.8" text-anchor="end">1</text>
<text x="43.2" y="220.15" font-size="8.8" text-anchor="end">0.95</text>
<text x="49.60" y="228.7" font-size="8.8" text-anchor="middle">1</text>
<text x="106.40" y="228.7" font-size="8.8" text-anchor="middle">10</text>
<text x="163.20" y="228.7" font-size="8.8" text-anchor="middle">100</text>
<text x="220.00" y="228.7" font-size="8.8" text-anchor="middle">1000</text>
<text x="276.80" y="228.7" font-size="8.8" text-anchor="middle">10000</text>
<text x="333.60" y="228.7" font-size="8.8" text-anchor="middle">100000</text>
<text x="191" y="242" font-size="8.8" text-anchor="middle">t</text>
<text transform="translate(9.3,113.5) rotate(-90)" font-size="8.8" text-anchor="middle">r [r<tspan font-size="7.0" dy="2.3">p</tspan><tspan dy="-2.3" dx="0.8">]</tspan></text>
<text x="164" y="168.00" font-size="8.8" text-anchor="end">τ<tspan font-size="7.0" dy="2.3">f</tspan><tspan dy="-2.3"> = 1.0</tspan></text>
<path d="M169,165.80 H193" stroke="#ff0000" stroke-width="1.45" fill="none"/>
<text x="164" y="176.73" font-size="8.8" text-anchor="end">τ<tspan font-size="7.0" dy="2.3">f</tspan><tspan dy="-2.3"> = 0.1</tspan></text>
<path d="M169,174.53 H193" stroke="#00ff00" stroke-width="1.45" fill="none"/>
<text x="164" y="185.46" font-size="8.8" text-anchor="end">τ<tspan font-size="7.0" dy="2.3">f</tspan><tspan dy="-2.3"> = 0.01</tspan></text>
<path d="M169,183.26 H193" stroke="#0000ff" stroke-width="1.45" fill="none"/>
<text x="164" y="194.19" font-size="8.8" text-anchor="end">τ<tspan font-size="7.0" dy="2.3">f</tspan><tspan dy="-2.3"> = 0.005</tspan></text>
<path d="M169,191.99 H193" stroke="#ff00ff" stroke-width="1.45" fill="none"/>
<text x="164" y="202.92" font-size="8.8" text-anchor="end">τ<tspan font-size="7.0" dy="2.3">f</tspan><tspan dy="-2.3"> = 0.001</tspan></text>
<path d="M169,200.72 H193" stroke="#00ffff" stroke-width="1.45" fill="none"/>
<text x="164" y="212.45" font-size="8.8" text-anchor="end">Maximum Pressure bump</text>
<path d="M169,209.45 H193" stroke="#222" stroke-width="1.0" fill="none"/>
</svg></body></html>
